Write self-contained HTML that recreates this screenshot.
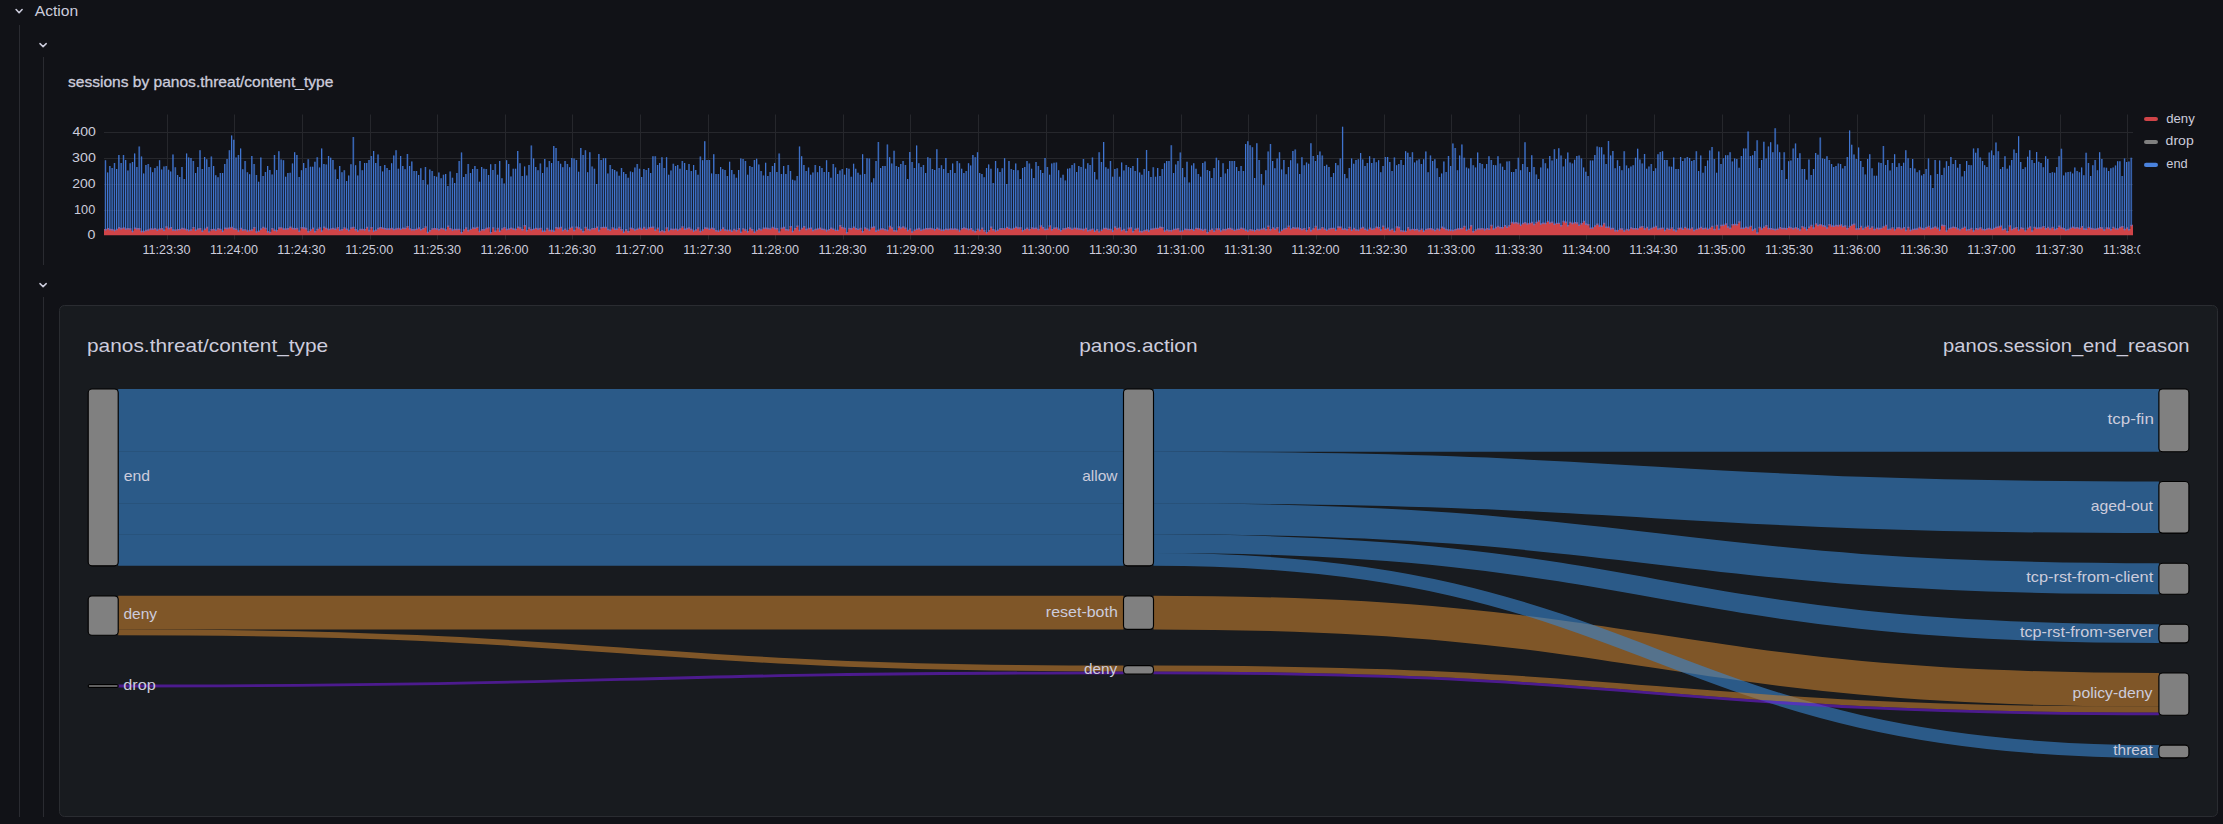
<!DOCTYPE html>
<html><head><meta charset="utf-8"><title>Action</title>
<style>
html,body{margin:0;padding:0;background:#111217;width:2223px;height:824px;overflow:hidden}
svg{display:block}
text{font-family:'Liberation Sans', Arial, sans-serif;}
</style></head><body>
<svg width="2223" height="824" viewBox="0 0 2223 824">
<rect x="0" y="0" width="2223" height="824" fill="#111217"/>

<path d="M16.1 9.5 L19.1 12.7 L22.1 9.5" fill="none" stroke="#ccccdc" stroke-width="1.6" stroke-linecap="round" stroke-linejoin="round"/>
<text x="34.78" y="16.0" font-size="15.5" fill="#ccccdc" textLength="43.47" lengthAdjust="spacingAndGlyphs">Action</text>
<rect x="19" y="25" width="1" height="792" fill="#2a2b31"/>
<path d="M40 43.6 L43.1 46.6 L46.2 43.6" fill="none" stroke="#ccccdc" stroke-width="1.5" stroke-linecap="round" stroke-linejoin="round"/>
<rect x="43" y="57" width="1" height="208" fill="#2a2b31"/>
<path d="M40 283.6 L43.1 286.6 L46.2 283.6" fill="none" stroke="#ccccdc" stroke-width="1.5" stroke-linecap="round" stroke-linejoin="round"/>
<rect x="43" y="297" width="1" height="520" fill="#2a2b31"/>
<text x="67.97" y="86.8" font-size="15" fill="#ccccdc" textLength="265.36" lengthAdjust="spacingAndGlyphs" stroke="#ccccdc" stroke-width="0.3">sessions by panos.threat/content_type</text>
<line x1="104" y1="210.5" x2="2133" y2="210.5" stroke="#26272c" stroke-width="1"/>
<line x1="104" y1="184.5" x2="2133" y2="184.5" stroke="#26272c" stroke-width="1"/>
<line x1="104" y1="158.5" x2="2133" y2="158.5" stroke="#26272c" stroke-width="1"/>
<line x1="104" y1="132.5" x2="2133" y2="132.5" stroke="#26272c" stroke-width="1"/>
<line x1="167.5" y1="114.5" x2="167.5" y2="239.5" stroke="#26272c" stroke-width="1"/>
<line x1="234.5" y1="114.5" x2="234.5" y2="239.5" stroke="#26272c" stroke-width="1"/>
<line x1="302.5" y1="114.5" x2="302.5" y2="239.5" stroke="#26272c" stroke-width="1"/>
<line x1="370.5" y1="114.5" x2="370.5" y2="239.5" stroke="#26272c" stroke-width="1"/>
<line x1="437.5" y1="114.5" x2="437.5" y2="239.5" stroke="#26272c" stroke-width="1"/>
<line x1="505.5" y1="114.5" x2="505.5" y2="239.5" stroke="#26272c" stroke-width="1"/>
<line x1="572.5" y1="114.5" x2="572.5" y2="239.5" stroke="#26272c" stroke-width="1"/>
<line x1="640.5" y1="114.5" x2="640.5" y2="239.5" stroke="#26272c" stroke-width="1"/>
<line x1="708.5" y1="114.5" x2="708.5" y2="239.5" stroke="#26272c" stroke-width="1"/>
<line x1="775.5" y1="114.5" x2="775.5" y2="239.5" stroke="#26272c" stroke-width="1"/>
<line x1="843.5" y1="114.5" x2="843.5" y2="239.5" stroke="#26272c" stroke-width="1"/>
<line x1="910.5" y1="114.5" x2="910.5" y2="239.5" stroke="#26272c" stroke-width="1"/>
<line x1="978.5" y1="114.5" x2="978.5" y2="239.5" stroke="#26272c" stroke-width="1"/>
<line x1="1046.5" y1="114.5" x2="1046.5" y2="239.5" stroke="#26272c" stroke-width="1"/>
<line x1="1113.5" y1="114.5" x2="1113.5" y2="239.5" stroke="#26272c" stroke-width="1"/>
<line x1="1181.5" y1="114.5" x2="1181.5" y2="239.5" stroke="#26272c" stroke-width="1"/>
<line x1="1248.5" y1="114.5" x2="1248.5" y2="239.5" stroke="#26272c" stroke-width="1"/>
<line x1="1316.5" y1="114.5" x2="1316.5" y2="239.5" stroke="#26272c" stroke-width="1"/>
<line x1="1384.5" y1="114.5" x2="1384.5" y2="239.5" stroke="#26272c" stroke-width="1"/>
<line x1="1451.5" y1="114.5" x2="1451.5" y2="239.5" stroke="#26272c" stroke-width="1"/>
<line x1="1519.5" y1="114.5" x2="1519.5" y2="239.5" stroke="#26272c" stroke-width="1"/>
<line x1="1586.5" y1="114.5" x2="1586.5" y2="239.5" stroke="#26272c" stroke-width="1"/>
<line x1="1654.5" y1="114.5" x2="1654.5" y2="239.5" stroke="#26272c" stroke-width="1"/>
<line x1="1722.5" y1="114.5" x2="1722.5" y2="239.5" stroke="#26272c" stroke-width="1"/>
<line x1="1789.5" y1="114.5" x2="1789.5" y2="239.5" stroke="#26272c" stroke-width="1"/>
<line x1="1857.5" y1="114.5" x2="1857.5" y2="239.5" stroke="#26272c" stroke-width="1"/>
<line x1="1924.5" y1="114.5" x2="1924.5" y2="239.5" stroke="#26272c" stroke-width="1"/>
<line x1="1992.5" y1="114.5" x2="1992.5" y2="239.5" stroke="#26272c" stroke-width="1"/>
<line x1="2060.5" y1="114.5" x2="2060.5" y2="239.5" stroke="#26272c" stroke-width="1"/>
<line x1="2127.5" y1="114.5" x2="2127.5" y2="239.5" stroke="#26272c" stroke-width="1"/>
<text x="72.51" y="135.9" font-size="12.5" fill="#ccccdc" textLength="23.39" lengthAdjust="spacingAndGlyphs">400</text>
<text x="72.13" y="161.8" font-size="12.5" fill="#ccccdc" textLength="23.73" lengthAdjust="spacingAndGlyphs">300</text>
<text x="72.23" y="187.7" font-size="12.5" fill="#ccccdc" textLength="23.28" lengthAdjust="spacingAndGlyphs">200</text>
<text x="74.04" y="213.5" font-size="12.5" fill="#ccccdc" textLength="21.23" lengthAdjust="spacingAndGlyphs">100</text>
<text x="87.49" y="239.2" font-size="12.5" fill="#ccccdc" textLength="7.90" lengthAdjust="spacingAndGlyphs">0</text>
<defs><clipPath id="pc"><rect x="104" y="94.5" width="2029" height="141.0"/></clipPath></defs>
<g clip-path="url(#pc)">
<path d="M104 235.5L104 228.88L104.49 228.88L106.75 228.88L106.75 227.89L109.00 227.89L109.00 228.84L111.25 228.84L111.25 228.95L113.51 228.95L113.51 229.74L115.76 229.74L115.76 228.82L118.01 228.82L118.01 227.12L120.27 227.12L120.27 228.00L122.52 228.00L122.52 227.21L124.77 227.21L124.77 228.23L127.03 228.23L127.03 228.04L129.28 228.04L129.28 228.31L131.53 228.31L131.53 230.69L133.79 230.69L133.79 227.45L136.04 227.45L136.04 227.90L138.29 227.90L138.29 227.91L140.55 227.91L140.55 230.73L142.80 230.73L142.80 230.79L145.05 230.79L145.05 229.69L147.31 229.69L147.31 229.15L149.56 229.15L149.56 228.15L151.81 228.15L151.81 228.61L154.07 228.61L154.07 227.88L156.32 227.88L156.32 229.37L158.57 229.37L158.57 228.15L160.83 228.15L160.83 228.04L163.08 228.04L163.08 229.40L165.34 229.40L165.34 226.34L167.59 226.34L167.59 227.83L169.84 227.83L169.84 227.01L172.10 227.01L172.10 229.35L174.35 229.35L174.35 229.50L176.60 229.50L176.60 228.99L178.86 228.99L178.86 228.68L181.11 228.68L181.11 227.73L183.36 227.73L183.36 228.23L185.62 228.23L185.62 229.12L187.87 229.12L187.87 229.78L190.12 229.78L190.12 229.22L192.38 229.22L192.38 226.98L194.63 226.98L194.63 229.59L196.88 229.59L196.88 228.23L199.14 228.23L199.14 228.00L201.39 228.00L201.39 230.47L203.64 230.47L203.64 228.49L205.90 228.49L205.90 226.87L208.15 226.87L208.15 231.14L210.40 231.14L210.40 228.96L212.66 228.96L212.66 228.68L214.91 228.68L214.91 229.60L217.16 229.60L217.16 227.91L219.42 227.91L219.42 228.63L221.67 228.63L221.67 230.43L223.92 230.43L223.92 227.48L226.18 227.48L226.18 227.69L228.43 227.69L228.43 227.33L230.68 227.33L230.68 226.69L232.94 226.69L232.94 228.08L235.19 228.08L235.19 228.39L237.44 228.39L237.44 230.22L239.70 230.22L239.70 227.76L241.95 227.76L241.95 229.34L244.20 229.34L244.20 229.13L246.46 229.13L246.46 230.18L248.71 230.18L248.71 229.79L250.96 229.79L250.96 229.23L253.22 229.23L253.22 226.89L255.47 226.89L255.47 231.16L257.72 231.16L257.72 230.42L259.98 230.42L259.98 228.24L262.23 228.24L262.23 226.69L264.48 226.69L264.48 227.80L266.74 227.80L266.74 230.99L268.99 230.99L268.99 231.79L271.24 231.79L271.24 228.09L273.50 228.09L273.50 229.50L275.75 229.50L275.75 229.99L278.01 229.99L278.01 227.29L280.26 227.29L280.26 227.13L282.51 227.13L282.51 228.35L284.77 228.35L284.77 228.23L287.02 228.23L287.02 227.99L289.27 227.99L289.27 226.50L291.53 226.50L291.53 227.75L293.78 227.75L293.78 227.88L296.03 227.88L296.03 227.84L298.29 227.84L298.29 230.57L300.54 230.57L300.54 226.90L302.79 226.90L302.79 227.32L305.05 227.32L305.05 227.87L307.30 227.87L307.30 231.09L309.55 231.09L309.55 229.36L311.81 229.36L311.81 227.46L314.06 227.46L314.06 230.88L316.31 230.88L316.31 228.78L318.57 228.78L318.57 227.23L320.82 227.23L320.82 230.24L323.07 230.24L323.07 226.47L325.33 226.47L325.33 227.84L327.58 227.84L327.58 228.74L329.83 228.74L329.83 228.13L332.09 228.13L332.09 227.71L334.34 227.71L334.34 228.39L336.59 228.39L336.59 227.07L338.85 227.07L338.85 229.40L341.10 229.40L341.10 229.08L343.35 229.08L343.35 227.21L345.61 227.21L345.61 228.51L347.86 228.51L347.86 229.68L350.11 229.68L350.11 227.33L352.37 227.33L352.37 226.66L354.62 226.66L354.62 229.12L356.87 229.12L356.87 230.32L359.13 230.32L359.13 228.72L361.38 228.72L361.38 228.74L363.63 228.74L363.63 228.93L365.89 228.93L365.89 226.74L368.14 226.74L368.14 229.87L370.39 229.87L370.39 226.92L372.65 226.92L372.65 230.18L374.90 230.18L374.90 229.56L377.15 229.56L377.15 227.73L379.41 227.73L379.41 227.09L381.66 227.09L381.66 227.44L383.91 227.44L383.91 228.10L386.17 228.10L386.17 228.36L388.42 228.36L388.42 228.35L390.68 228.35L390.68 227.81L392.93 227.81L392.93 228.77L395.18 228.77L395.18 228.19L397.44 228.19L397.44 227.81L399.69 227.81L399.69 228.55L401.94 228.55L401.94 227.56L404.20 227.56L404.20 227.82L406.45 227.82L406.45 225.96L408.70 225.96L408.70 228.13L410.96 228.13L410.96 229.10L413.21 229.10L413.21 229.03L415.46 229.03L415.46 228.56L417.72 228.56L417.72 227.36L419.97 227.36L419.97 228.98L422.22 228.98L422.22 228.05L424.48 228.05L424.48 226.18L426.73 226.18L426.73 231.85L428.98 231.85L428.98 229.99L431.24 229.99L431.24 228.23L433.49 228.23L433.49 228.03L435.74 228.03L435.74 228.24L438.00 228.24L438.00 229.10L440.25 229.10L440.25 227.70L442.50 227.70L442.50 228.18L444.76 228.18L444.76 229.22L447.01 229.22L447.01 225.42L449.26 225.42L449.26 228.09L451.52 228.09L451.52 229.26L453.77 229.26L453.77 228.68L456.02 228.68L456.02 228.84L458.28 228.84L458.28 228.63L460.53 228.63L460.53 232.06L462.78 232.06L462.78 229.17L465.04 229.17L465.04 227.25L467.29 227.25L467.29 230.05L469.54 230.05L469.54 228.63L471.80 228.63L471.80 227.32L474.05 227.32L474.05 227.45L476.30 227.45L476.30 226.63L478.56 226.63L478.56 230.74L480.81 230.74L480.81 229.00L483.06 229.00L483.06 228.99L485.32 228.99L485.32 227.75L487.57 227.75L487.57 227.14L489.82 227.14L489.82 232.00L492.08 232.00L492.08 227.15L494.33 227.15L494.33 230.41L496.58 230.41L496.58 227.67L498.84 227.67L498.84 230.47L501.09 230.47L501.09 228.32L503.35 228.32L503.35 227.01L505.60 227.01L505.60 228.74L507.85 228.74L507.85 228.30L510.11 228.30L510.11 227.52L512.36 227.52L512.36 228.37L514.61 228.37L514.61 228.66L516.87 228.66L516.87 226.57L519.12 226.57L519.12 227.20L521.37 227.20L521.37 228.93L523.63 228.93L523.63 225.01L525.88 225.01L525.88 230.02L528.13 230.02L528.13 227.37L530.39 227.37L530.39 228.89L532.64 228.89L532.64 228.38L534.89 228.38L534.89 227.64L537.15 227.64L537.15 228.26L539.40 228.26L539.40 227.73L541.65 227.73L541.65 230.51L543.91 230.51L543.91 230.49L546.16 230.49L546.16 227.76L548.41 227.76L548.41 229.79L550.67 229.79L550.67 229.87L552.92 229.87L552.92 230.44L555.17 230.44L555.17 226.92L557.43 226.92L557.43 227.59L559.68 227.59L559.68 226.65L561.93 226.65L561.93 229.75L564.19 229.75L564.19 228.55L566.44 228.55L566.44 230.02L568.69 230.02L568.69 227.56L570.95 227.56L570.95 226.50L573.20 226.50L573.20 229.69L575.45 229.69L575.45 226.54L577.71 226.54L577.71 227.28L579.96 227.28L579.96 228.78L582.21 228.78L582.21 231.09L584.47 231.09L584.47 226.74L586.72 226.74L586.72 228.67L588.97 228.67L588.97 229.32L591.23 229.32L591.23 228.03L593.48 228.03L593.48 228.02L595.73 228.02L595.73 226.62L597.99 226.62L597.99 229.86L600.24 229.86L600.24 227.08L602.49 227.08L602.49 226.63L604.75 226.63L604.75 226.68L607.00 226.68L607.00 228.78L609.25 228.78L609.25 229.51L611.51 229.51L611.51 227.24L613.76 227.24L613.76 228.40L616.02 228.40L616.02 228.39L618.27 228.39L618.27 226.71L620.52 226.71L620.52 228.89L622.78 228.89L622.78 231.50L625.03 231.50L625.03 229.05L627.28 229.05L627.28 230.93L629.54 230.93L629.54 227.49L631.79 227.49L631.79 228.14L634.04 228.14L634.04 229.33L636.30 229.33L636.30 228.56L638.55 228.56L638.55 227.48L640.80 227.48L640.80 228.45L643.06 228.45L643.06 226.84L645.31 226.84L645.31 228.63L647.56 228.63L647.56 227.21L649.82 227.21L649.82 226.63L652.07 226.63L652.07 226.47L654.32 226.47L654.32 229.41L656.58 229.41L656.58 227.41L658.83 227.41L658.83 230.96L661.08 230.96L661.08 229.94L663.34 229.94L663.34 231.07L665.59 231.07L665.59 227.17L667.84 227.17L667.84 230.13L670.10 230.13L670.10 228.56L672.35 228.56L672.35 228.79L674.60 228.79L674.60 228.58L676.86 228.58L676.86 229.31L679.11 229.31L679.11 228.25L681.36 228.25L681.36 226.24L683.62 226.24L683.62 228.49L685.87 228.49L685.87 227.86L688.12 227.86L688.12 227.26L690.38 227.26L690.38 228.80L692.63 228.80L692.63 230.17L694.88 230.17L694.88 229.26L697.14 229.26L697.14 227.17L699.39 227.17L699.39 230.67L701.64 230.67L701.64 229.32L703.90 229.32L703.90 227.25L706.15 227.25L706.15 227.53L708.40 227.53L708.40 228.54L710.66 228.54L710.66 227.51L712.91 227.51L712.91 228.33L715.16 228.33L715.16 230.07L717.42 230.07L717.42 230.56L719.67 230.56L719.67 229.37L721.92 229.37L721.92 227.36L724.18 227.36L724.18 229.28L726.43 229.28L726.43 229.71L728.69 229.71L728.69 229.54L730.94 229.54L730.94 230.52L733.19 230.52L733.19 228.70L735.45 228.70L735.45 230.07L737.70 230.07L737.70 228.08L739.95 228.08L739.95 231.59L742.21 231.59L742.21 228.13L744.46 228.13L744.46 229.37L746.71 229.37L746.71 231.05L748.97 231.05L748.97 227.61L751.22 227.61L751.22 228.90L753.47 228.90L753.47 231.42L755.73 231.42L755.73 229.67L757.98 229.67L757.98 228.17L760.23 228.17L760.23 229.14L762.49 229.14L762.49 227.54L764.74 227.54L764.74 227.59L766.99 227.59L766.99 227.69L769.25 227.69L769.25 228.13L771.50 228.13L771.50 226.83L773.75 226.83L773.75 227.70L776.01 227.70L776.01 227.97L778.26 227.97L778.26 231.23L780.51 231.23L780.51 227.39L782.77 227.39L782.77 226.86L785.02 226.86L785.02 228.93L787.27 228.93L787.27 229.15L789.53 229.15L789.53 226.05L791.78 226.05L791.78 230.81L794.03 230.81L794.03 227.94L796.29 227.94L796.29 225.43L798.54 225.43L798.54 229.74L800.79 229.74L800.79 227.66L803.05 227.66L803.05 226.12L805.30 226.12L805.30 228.70L807.55 228.70L807.55 227.82L809.81 227.82L809.81 227.39L812.06 227.39L812.06 229.71L814.31 229.71L814.31 228.66L816.57 228.66L816.57 228.17L818.82 228.17L818.82 227.48L821.07 227.48L821.07 228.59L823.33 228.59L823.33 228.80L825.58 228.80L825.58 229.86L827.83 229.86L827.83 229.01L830.09 229.01L830.09 227.40L832.34 227.40L832.34 228.42L834.59 228.42L834.59 229.65L836.85 229.65L836.85 229.63L839.10 229.63L839.10 225.11L841.36 225.11L841.36 227.08L843.61 227.08L843.61 227.73L845.86 227.73L845.86 231.89L848.12 231.89L848.12 227.75L850.37 227.75L850.37 227.93L852.62 227.93L852.62 226.38L854.88 226.38L854.88 228.00L857.13 228.00L857.13 228.63L859.38 228.63L859.38 227.87L861.64 227.87L861.64 231.05L863.89 231.05L863.89 227.22L866.14 227.22L866.14 228.13L868.40 228.13L868.40 229.45L870.65 229.45L870.65 226.84L872.90 226.84L872.90 226.22L875.16 226.22L875.16 230.35L877.41 230.35L877.41 229.41L879.66 229.41L879.66 228.17L881.92 228.17L881.92 228.31L884.17 228.31L884.17 229.06L886.42 229.06L886.42 229.80L888.68 229.80L888.68 225.82L890.93 225.82L890.93 227.21L893.18 227.21L893.18 230.09L895.44 230.09L895.44 230.28L897.69 230.28L897.69 226.35L899.94 226.35L899.94 227.27L902.20 227.27L902.20 226.20L904.45 226.20L904.45 227.50L906.70 227.50L906.70 229.67L908.96 229.67L908.96 228.21L911.21 228.21L911.21 231.33L913.46 231.33L913.46 229.51L915.72 229.51L915.72 228.62L917.97 228.62L917.97 227.87L920.22 227.87L920.22 229.48L922.48 229.48L922.48 228.71L924.73 228.71L924.73 227.96L926.98 227.96L926.98 228.06L929.24 228.06L929.24 227.73L931.49 227.73L931.49 228.28L933.74 228.28L933.74 228.96L936.00 228.96L936.00 227.53L938.25 227.53L938.25 228.48L940.50 228.48L940.50 229.61L942.76 229.61L942.76 229.35L945.01 229.35L945.01 228.55L947.26 228.55L947.26 228.69L949.52 228.69L949.52 228.35L951.77 228.35L951.77 228.55L954.03 228.55L954.03 228.32L956.28 228.32L956.28 228.72L958.53 228.72L958.53 230.17L960.79 230.17L960.79 228.01L963.04 228.01L963.04 227.19L965.29 227.19L965.29 227.99L967.55 227.99L967.55 228.79L969.80 228.79L969.80 227.97L972.05 227.97L972.05 229.79L974.31 229.79L974.31 230.99L976.56 230.99L976.56 228.47L978.81 228.47L978.81 229.75L981.07 229.75L981.07 227.59L983.32 227.59L983.32 229.94L985.57 229.94L985.57 231.93L987.83 231.93L987.83 229.89L990.08 229.89L990.08 226.52L992.33 226.52L992.33 229.04L994.59 229.04L994.59 230.31L996.84 230.31L996.84 229.53L999.09 229.53L999.09 227.88L1001.35 227.88L1001.35 227.91L1003.60 227.91L1003.60 228.32L1005.85 228.32L1005.85 226.64L1008.11 226.64L1008.11 227.64L1010.36 227.64L1010.36 228.57L1012.61 228.57L1012.61 227.78L1014.87 227.78L1014.87 226.42L1017.12 226.42L1017.12 227.30L1019.37 227.30L1019.37 227.23L1021.63 227.23L1021.63 229.94L1023.88 229.94L1023.88 228.74L1026.13 228.74L1026.13 227.61L1028.39 227.61L1028.39 228.93L1030.64 228.93L1030.64 227.17L1032.89 227.17L1032.89 227.78L1035.15 227.78L1035.15 227.38L1037.40 227.38L1037.40 228.82L1039.65 228.82L1039.65 225.27L1041.91 225.27L1041.91 226.95L1044.16 226.95L1044.16 228.82L1046.41 228.82L1046.41 228.43L1048.67 228.43L1048.67 225.21L1050.92 225.21L1050.92 228.99L1053.17 228.99L1053.17 227.42L1055.43 227.42L1055.43 227.29L1057.68 227.29L1057.68 228.54L1059.93 228.54L1059.93 230.05L1062.19 230.05L1062.19 228.31L1064.44 228.31L1064.44 228.08L1066.70 228.08L1066.70 227.09L1068.95 227.09L1068.95 227.54L1071.20 227.54L1071.20 228.52L1073.46 228.52L1073.46 227.45L1075.71 227.45L1075.71 227.85L1077.96 227.85L1077.96 228.28L1080.22 228.28L1080.22 228.48L1082.47 228.48L1082.47 228.86L1084.72 228.86L1084.72 227.66L1086.98 227.66L1086.98 229.90L1089.23 229.90L1089.23 229.36L1091.48 229.36L1091.48 228.54L1093.74 228.54L1093.74 230.43L1095.99 230.43L1095.99 229.11L1098.24 229.11L1098.24 231.13L1100.50 231.13L1100.50 229.43L1102.75 229.43L1102.75 227.82L1105.00 227.82L1105.00 227.82L1107.26 227.82L1107.26 228.62L1109.51 228.62L1109.51 228.85L1111.76 228.85L1111.76 230.37L1114.02 230.37L1114.02 226.19L1116.27 226.19L1116.27 227.88L1118.52 227.88L1118.52 227.14L1120.78 227.14L1120.78 229.68L1123.03 229.68L1123.03 228.79L1125.28 228.79L1125.28 230.89L1127.54 230.89L1127.54 227.54L1129.79 227.54L1129.79 227.34L1132.04 227.34L1132.04 230.99L1134.30 230.99L1134.30 228.61L1136.55 228.61L1136.55 227.74L1138.80 227.74L1138.80 230.82L1141.06 230.82L1141.06 230.90L1143.31 230.90L1143.31 229.92L1145.56 229.92L1145.56 229.36L1147.82 229.36L1147.82 230.35L1150.07 230.35L1150.07 228.51L1152.32 228.51L1152.32 228.23L1154.58 228.23L1154.58 227.73L1156.83 227.73L1156.83 227.64L1159.08 227.64L1159.08 226.61L1161.34 226.61L1161.34 227.05L1163.59 227.05L1163.59 230.24L1165.84 230.24L1165.84 229.20L1168.10 229.20L1168.10 229.91L1170.35 229.91L1170.35 229.93L1172.60 229.93L1172.60 228.65L1174.86 228.65L1174.86 228.54L1177.11 228.54L1177.11 227.92L1179.37 227.92L1179.37 230.59L1181.62 230.59L1181.62 230.14L1183.87 230.14L1183.87 228.58L1186.13 228.58L1186.13 228.80L1188.38 228.80L1188.38 228.95L1190.63 228.95L1190.63 228.63L1192.89 228.63L1192.89 229.53L1195.14 229.53L1195.14 227.64L1197.39 227.64L1197.39 228.09L1199.65 228.09L1199.65 228.66L1201.90 228.66L1201.90 229.41L1204.15 229.41L1204.15 228.77L1206.41 228.77L1206.41 232.05L1208.66 232.05L1208.66 229.81L1210.91 229.81L1210.91 228.50L1213.17 228.50L1213.17 230.48L1215.42 230.48L1215.42 228.29L1217.67 228.29L1217.67 228.36L1219.93 228.36L1219.93 230.32L1222.18 230.32L1222.18 228.87L1224.43 228.87L1224.43 228.95L1226.69 228.95L1226.69 227.96L1228.94 227.96L1228.94 227.76L1231.19 227.76L1231.19 228.59L1233.45 228.59L1233.45 229.64L1235.70 229.64L1235.70 228.73L1237.95 228.73L1237.95 228.63L1240.21 228.63L1240.21 227.60L1242.46 227.60L1242.46 228.17L1244.71 228.17L1244.71 229.48L1246.97 229.48L1246.97 230.29L1249.22 230.29L1249.22 229.03L1251.47 229.03L1251.47 229.50L1253.73 229.50L1253.73 229.98L1255.98 229.98L1255.98 228.70L1258.23 228.70L1258.23 229.18L1260.49 229.18L1260.49 228.41L1262.74 228.41L1262.74 227.87L1264.99 227.87L1264.99 229.08L1267.25 229.08L1267.25 225.55L1269.50 225.55L1269.50 228.96L1271.75 228.96L1271.75 227.13L1274.01 227.13L1274.01 228.39L1276.26 228.39L1276.26 227.11L1278.51 227.11L1278.51 231.61L1280.77 231.61L1280.77 229.52L1283.02 229.52L1283.02 228.23L1285.27 228.23L1285.27 227.77L1287.53 227.77L1287.53 225.54L1289.78 225.54L1289.78 228.13L1292.04 228.13L1292.04 226.90L1294.29 226.90L1294.29 227.56L1296.54 227.56L1296.54 227.33L1298.80 227.33L1298.80 227.89L1301.05 227.89L1301.05 228.75L1303.30 228.75L1303.30 227.89L1305.56 227.89L1305.56 229.94L1307.81 229.94L1307.81 227.03L1310.06 227.03L1310.06 229.86L1312.32 229.86L1312.32 228.23L1314.57 228.23L1314.57 225.82L1316.82 225.82L1316.82 228.84L1319.08 228.84L1319.08 228.52L1321.33 228.52L1321.33 227.05L1323.58 227.05L1323.58 228.51L1325.84 228.51L1325.84 229.59L1328.09 229.59L1328.09 228.22L1330.34 228.22L1330.34 227.80L1332.60 227.80L1332.60 227.63L1334.85 227.63L1334.85 229.54L1337.10 229.54L1337.10 226.29L1339.36 226.29L1339.36 226.40L1341.61 226.40L1341.61 228.52L1343.86 228.52L1343.86 228.20L1346.12 228.20L1346.12 229.10L1348.37 229.10L1348.37 226.73L1350.62 226.73L1350.62 229.46L1352.88 229.46L1352.88 227.68L1355.13 227.68L1355.13 229.17L1357.38 229.17L1357.38 229.44L1359.64 229.44L1359.64 227.62L1361.89 227.62L1361.89 226.83L1364.14 226.83L1364.14 228.56L1366.40 228.56L1366.40 229.42L1368.65 229.42L1368.65 227.50L1370.90 227.50L1370.90 228.61L1373.16 228.61L1373.16 228.15L1375.41 228.15L1375.41 226.59L1377.66 226.59L1377.66 227.09L1379.92 227.09L1379.92 229.22L1382.17 229.22L1382.17 225.61L1384.42 225.61L1384.42 228.54L1386.68 228.54L1386.68 227.54L1388.93 227.54L1388.93 229.38L1391.18 229.38L1391.18 228.61L1393.44 228.61L1393.44 230.80L1395.69 230.80L1395.69 226.25L1397.94 226.25L1397.94 226.79L1400.20 226.79L1400.20 230.11L1402.45 230.11L1402.45 230.49L1404.71 230.49L1404.71 230.63L1406.96 230.63L1406.96 227.03L1409.21 227.03L1409.21 229.14L1411.47 229.14L1411.47 228.63L1413.72 228.63L1413.72 228.95L1415.97 228.95L1415.97 228.70L1418.23 228.70L1418.23 229.95L1420.48 229.95L1420.48 228.52L1422.73 228.52L1422.73 230.40L1424.99 230.40L1424.99 228.64L1427.24 228.64L1427.24 228.15L1429.49 228.15L1429.49 227.95L1431.75 227.95L1431.75 228.85L1434.00 228.85L1434.00 229.71L1436.25 229.71L1436.25 228.34L1438.51 228.34L1438.51 229.17L1440.76 229.17L1440.76 226.53L1443.01 226.53L1443.01 227.56L1445.27 227.56L1445.27 228.70L1447.52 228.70L1447.52 229.15L1449.77 229.15L1449.77 229.45L1452.03 229.45L1452.03 229.75L1454.28 229.75L1454.28 229.00L1456.53 229.00L1456.53 228.17L1458.79 228.17L1458.79 227.88L1461.04 227.88L1461.04 227.82L1463.29 227.82L1463.29 225.85L1465.55 225.85L1465.55 229.46L1467.80 229.46L1467.80 228.53L1470.05 228.53L1470.05 224.95L1472.31 224.95L1472.31 230.95L1474.56 230.95L1474.56 229.22L1476.81 229.22L1476.81 228.33L1479.07 228.33L1479.07 228.35L1481.32 228.35L1481.32 228.02L1483.57 228.02L1483.57 228.85L1485.83 228.85L1485.83 228.08L1488.08 228.08L1488.08 228.48L1490.33 228.48L1490.33 224.72L1492.59 224.72L1492.59 228.15L1494.84 228.15L1494.84 226.85L1497.09 226.85L1497.09 225.72L1499.35 225.72L1499.35 227.04L1501.60 227.04L1501.60 227.06L1503.85 227.06L1503.85 224.91L1506.11 224.91L1506.11 226.55L1508.36 226.55L1508.36 224.90L1510.61 224.90L1510.61 221.66L1512.87 221.66L1512.87 222.23L1515.12 222.23L1515.12 221.97L1517.38 221.97L1517.38 222.76L1519.63 222.76L1519.63 224.44L1521.88 224.44L1521.88 222.66L1524.14 222.66L1524.14 222.04L1526.39 222.04L1526.39 223.31L1528.64 223.31L1528.64 222.75L1530.90 222.75L1530.90 221.66L1533.15 221.66L1533.15 223.76L1535.40 223.76L1535.40 221.80L1537.66 221.80L1537.66 220.23L1539.91 220.23L1539.91 223.34L1542.16 223.34L1542.16 222.44L1544.42 222.44L1544.42 222.82L1546.67 222.82L1546.67 220.64L1548.92 220.64L1548.92 222.22L1551.18 222.22L1551.18 221.47L1553.43 221.47L1553.43 223.51L1555.68 223.51L1555.68 222.65L1557.94 222.65L1557.94 222.64L1560.19 222.64L1560.19 224.91L1562.44 224.91L1562.44 220.77L1564.70 220.77L1564.70 221.47L1566.95 221.47L1566.95 224.88L1569.20 224.88L1569.20 221.67L1571.46 221.67L1571.46 222.79L1573.71 222.79L1573.71 222.05L1575.96 222.05L1575.96 222.15L1578.22 222.15L1578.22 224.55L1580.47 224.55L1580.47 222.90L1582.72 222.90L1582.72 220.70L1584.98 220.70L1584.98 223.37L1587.23 223.37L1587.23 223.94L1589.48 223.94L1589.48 227.47L1591.74 227.47L1591.74 227.29L1593.99 227.29L1593.99 225.28L1596.24 225.28L1596.24 223.54L1598.50 223.54L1598.50 225.16L1600.75 225.16L1600.75 225.40L1603.00 225.40L1603.00 222.84L1605.26 222.84L1605.26 226.38L1607.51 226.38L1607.51 226.58L1609.76 226.58L1609.76 227.87L1612.02 227.87L1612.02 227.84L1614.27 227.84L1614.27 229.85L1616.52 229.85L1616.52 230.05L1618.78 230.05L1618.78 228.17L1621.03 228.17L1621.03 228.23L1623.28 228.23L1623.28 230.23L1625.54 230.23L1625.54 228.81L1627.79 228.81L1627.79 229.25L1630.05 229.25L1630.05 227.18L1632.30 227.18L1632.30 227.93L1634.55 227.93L1634.55 227.89L1636.81 227.89L1636.81 228.23L1639.06 228.23L1639.06 226.42L1641.31 226.42L1641.31 225.98L1643.57 225.98L1643.57 228.25L1645.82 228.25L1645.82 226.69L1648.07 226.69L1648.07 228.75L1650.33 228.75L1650.33 227.68L1652.58 227.68L1652.58 226.81L1654.83 226.81L1654.83 225.83L1657.09 225.83L1657.09 228.27L1659.34 228.27L1659.34 227.87L1661.59 227.87L1661.59 227.52L1663.85 227.52L1663.85 229.70L1666.10 229.70L1666.10 227.75L1668.35 227.75L1668.35 228.65L1670.61 228.65L1670.61 227.30L1672.86 227.30L1672.86 229.23L1675.11 229.23L1675.11 230.32L1677.37 230.32L1677.37 227.73L1679.62 227.73L1679.62 227.44L1681.87 227.44L1681.87 228.48L1684.13 228.48L1684.13 226.63L1686.38 226.63L1686.38 228.13L1688.63 228.13L1688.63 228.55L1690.89 228.55L1690.89 227.16L1693.14 227.16L1693.14 229.79L1695.39 229.79L1695.39 228.65L1697.65 228.65L1697.65 227.80L1699.90 227.80L1699.90 226.68L1702.15 226.68L1702.15 227.98L1704.41 227.98L1704.41 227.38L1706.66 227.38L1706.66 228.62L1708.91 228.62L1708.91 227.39L1711.17 227.39L1711.17 225.63L1713.42 225.63L1713.42 228.66L1715.67 228.66L1715.67 224.73L1717.93 224.73L1717.93 228.60L1720.18 228.60L1720.18 224.66L1722.43 224.66L1722.43 224.46L1724.69 224.46L1724.69 223.37L1726.94 223.37L1726.94 226.28L1729.19 226.28L1729.19 227.39L1731.45 227.39L1731.45 223.90L1733.70 223.90L1733.70 223.66L1735.95 223.66L1735.95 223.88L1738.21 223.88L1738.21 221.30L1740.46 221.30L1740.46 227.51L1742.72 227.51L1742.72 227.45L1744.97 227.45L1744.97 226.58L1747.22 226.58L1747.22 227.30L1749.48 227.30L1749.48 225.63L1751.73 225.63L1751.73 229.37L1753.98 229.37L1753.98 228.26L1756.24 228.26L1756.24 232.21L1758.49 232.21L1758.49 226.73L1760.74 226.73L1760.74 228.25L1763.00 228.25L1763.00 226.59L1765.25 226.59L1765.25 225.00L1767.50 225.00L1767.50 227.78L1769.76 227.78L1769.76 228.10L1772.01 228.10L1772.01 228.42L1774.26 228.42L1774.26 228.85L1776.52 228.85L1776.52 228.59L1778.77 228.59L1778.77 226.95L1781.02 226.95L1781.02 227.73L1783.28 227.73L1783.28 227.69L1785.53 227.69L1785.53 228.00L1787.78 228.00L1787.78 226.60L1790.04 226.60L1790.04 227.14L1792.29 227.14L1792.29 227.96L1794.54 227.96L1794.54 226.92L1796.80 226.92L1796.80 227.97L1799.05 227.97L1799.05 229.26L1801.30 229.26L1801.30 225.90L1803.56 225.90L1803.56 227.18L1805.81 227.18L1805.81 229.01L1808.06 229.01L1808.06 226.39L1810.32 226.39L1810.32 224.76L1812.57 224.76L1812.57 227.21L1814.82 227.21L1814.82 223.13L1817.08 223.13L1817.08 224.77L1819.33 224.77L1819.33 224.05L1821.58 224.05L1821.58 224.95L1823.84 224.95L1823.84 225.39L1826.09 225.39L1826.09 227.19L1828.34 227.19L1828.34 223.95L1830.60 223.95L1830.60 225.16L1832.85 225.16L1832.85 225.57L1835.10 225.57L1835.10 224.75L1837.36 224.75L1837.36 225.10L1839.61 225.10L1839.61 224.33L1841.86 224.33L1841.86 225.68L1844.12 225.68L1844.12 225.25L1846.37 225.25L1846.37 227.95L1848.62 227.95L1848.62 225.74L1850.88 225.74L1850.88 224.33L1853.13 224.33L1853.13 223.48L1855.39 223.48L1855.39 228.24L1857.64 228.24L1857.64 227.93L1859.89 227.93L1859.89 225.74L1862.15 225.74L1862.15 228.19L1864.40 228.19L1864.40 226.83L1866.65 226.83L1866.65 225.61L1868.91 225.61L1868.91 227.72L1871.16 227.72L1871.16 226.20L1873.41 226.20L1873.41 228.69L1875.67 228.69L1875.67 227.51L1877.92 227.51L1877.92 227.87L1880.17 227.87L1880.17 227.63L1882.43 227.63L1882.43 226.32L1884.68 226.32L1884.68 224.70L1886.93 224.70L1886.93 228.63L1889.19 228.63L1889.19 228.52L1891.44 228.52L1891.44 227.13L1893.69 227.13L1893.69 229.13L1895.95 229.13L1895.95 227.14L1898.20 227.14L1898.20 227.04L1900.45 227.04L1900.45 228.13L1902.71 228.13L1902.71 227.09L1904.96 227.09L1904.96 229.77L1907.21 229.77L1907.21 226.80L1909.47 226.80L1909.47 229.76L1911.72 229.76L1911.72 228.67L1913.97 228.67L1913.97 228.49L1916.23 228.49L1916.23 228.29L1918.48 228.29L1918.48 226.67L1920.73 226.67L1920.73 227.67L1922.99 227.67L1922.99 228.29L1925.24 228.29L1925.24 227.08L1927.49 227.08L1927.49 225.74L1929.75 225.74L1929.75 227.77L1932.00 227.77L1932.00 227.30L1934.25 227.30L1934.25 226.18L1936.51 226.18L1936.51 227.43L1938.76 227.43L1938.76 229.43L1941.01 229.43L1941.01 224.57L1943.27 224.57L1943.27 224.93L1945.52 224.93L1945.52 230.33L1947.77 230.33L1947.77 227.83L1950.03 227.83L1950.03 227.24L1952.28 227.24L1952.28 226.53L1954.53 226.53L1954.53 226.91L1956.79 226.91L1956.79 228.13L1959.04 228.13L1959.04 229.13L1961.29 229.13L1961.29 227.64L1963.55 227.64L1963.55 226.44L1965.80 226.44L1965.80 229.18L1968.06 229.18L1968.06 229.10L1970.31 229.10L1970.31 227.81L1972.56 227.81L1972.56 230.27L1974.82 230.27L1974.82 228.11L1977.07 228.11L1977.07 228.34L1979.32 228.34L1979.32 227.19L1981.58 227.19L1981.58 228.68L1983.83 228.68L1983.83 228.91L1986.08 228.91L1986.08 228.28L1988.34 228.28L1988.34 227.84L1990.59 227.84L1990.59 228.63L1992.84 228.63L1992.84 227.76L1995.10 227.76L1995.10 226.81L1997.35 226.81L1997.35 226.25L1999.60 226.25L1999.60 225.58L2001.86 225.58L2001.86 228.78L2004.11 228.78L2004.11 228.32L2006.36 228.32L2006.36 230.97L2008.62 230.97L2008.62 225.33L2010.87 225.33L2010.87 228.71L2013.12 228.71L2013.12 227.82L2015.38 227.82L2015.38 227.10L2017.63 227.10L2017.63 229.52L2019.88 229.52L2019.88 227.18L2022.14 227.18L2022.14 227.81L2024.39 227.81L2024.39 230.13L2026.64 230.13L2026.64 227.40L2028.90 227.40L2028.90 226.24L2031.15 226.24L2031.15 230.18L2033.40 230.18L2033.40 226.74L2035.66 226.74L2035.66 227.51L2037.91 227.51L2037.91 227.16L2040.16 227.16L2040.16 227.21L2042.42 227.21L2042.42 226.10L2044.67 226.10L2044.67 228.06L2046.92 228.06L2046.92 226.65L2049.18 226.65L2049.18 228.30L2051.43 228.30L2051.43 226.84L2053.68 226.84L2053.68 228.82L2055.94 228.82L2055.94 227.91L2058.19 227.91L2058.19 225.55L2060.44 225.55L2060.44 227.20L2062.70 227.20L2062.70 227.98L2064.95 227.98L2064.95 229.25L2067.20 229.25L2067.20 228.79L2069.46 228.79L2069.46 227.53L2071.71 227.53L2071.71 226.57L2073.96 226.57L2073.96 227.23L2076.22 227.23L2076.22 227.10L2078.47 227.10L2078.47 227.83L2080.73 227.83L2080.73 226.03L2082.98 226.03L2082.98 228.28L2085.23 228.28L2085.23 228.48L2087.49 228.48L2087.49 226.63L2089.74 226.63L2089.74 227.69L2091.99 227.69L2091.99 228.13L2094.25 228.13L2094.25 228.52L2096.50 228.52L2096.50 228.11L2098.75 228.11L2098.75 226.97L2101.01 226.97L2101.01 227.32L2103.26 227.32L2103.26 229.33L2105.51 229.33L2105.51 227.23L2107.77 227.23L2107.77 227.54L2110.02 227.54L2110.02 229.06L2112.27 229.06L2112.27 226.78L2114.53 226.78L2114.53 228.14L2116.78 228.14L2116.78 228.21L2119.03 228.21L2119.03 226.75L2121.29 226.75L2121.29 226.07L2123.54 226.07L2123.54 228.66L2125.79 228.66L2125.79 227.21L2128.05 227.21L2128.05 228.90L2130.30 228.90L2130.30 224.80L2132.55 224.80L2133 224.80L2133 235.5Z" fill="#d04448"/>
<path d="M104.84 160.3h1.55V230.4h-1.55ZM107.10 172.5h1.55V229.4h-1.55ZM109.35 166.1h1.55V230.3h-1.55ZM111.61 167.9h1.55V230.5h-1.55ZM113.86 163.0h1.55V231.2h-1.55ZM116.11 169.0h1.55V230.3h-1.55ZM118.37 154.9h1.55V228.6h-1.55ZM120.62 163.0h1.55V229.5h-1.55ZM122.87 155.1h1.55V228.7h-1.55ZM125.13 160.1h1.55V229.7h-1.55ZM127.38 170.4h1.55V229.5h-1.55ZM129.63 163.2h1.55V229.8h-1.55ZM131.89 162.1h1.55V232.2h-1.55ZM134.14 153.4h1.55V228.9h-1.55ZM136.39 166.9h1.55V229.4h-1.55ZM138.65 146.4h1.55V229.4h-1.55ZM140.90 156.5h1.55V232.2h-1.55ZM143.15 173.4h1.55V232.3h-1.55ZM145.41 165.1h1.55V231.2h-1.55ZM147.66 163.9h1.55V230.7h-1.55ZM149.91 167.2h1.55V229.7h-1.55ZM152.17 172.2h1.55V230.1h-1.55ZM154.42 167.9h1.55V229.4h-1.55ZM156.67 166.3h1.55V230.9h-1.55ZM158.93 160.3h1.55V229.7h-1.55ZM161.18 169.4h1.55V229.5h-1.55ZM163.43 166.4h1.55V230.9h-1.55ZM165.69 165.9h1.55V227.8h-1.55ZM167.94 169.8h1.55V229.3h-1.55ZM170.19 171.4h1.55V228.5h-1.55ZM172.45 154.5h1.55V230.8h-1.55ZM174.70 167.2h1.55V231.0h-1.55ZM176.95 175.0h1.55V230.5h-1.55ZM179.21 176.9h1.55V230.2h-1.55ZM181.46 167.1h1.55V229.2h-1.55ZM183.71 178.9h1.55V229.7h-1.55ZM185.97 153.4h1.55V230.6h-1.55ZM188.22 157.4h1.55V231.3h-1.55ZM190.47 158.0h1.55V230.7h-1.55ZM192.73 160.9h1.55V228.5h-1.55ZM194.98 173.1h1.55V231.1h-1.55ZM197.23 166.9h1.55V229.7h-1.55ZM199.49 150.2h1.55V229.5h-1.55ZM201.74 169.0h1.55V232.0h-1.55ZM203.99 157.0h1.55V230.0h-1.55ZM206.25 159.2h1.55V228.4h-1.55ZM208.50 166.9h1.55V232.6h-1.55ZM210.75 156.5h1.55V230.5h-1.55ZM213.01 165.9h1.55V230.2h-1.55ZM215.26 175.2h1.55V231.1h-1.55ZM217.51 177.2h1.55V229.4h-1.55ZM219.77 173.1h1.55V230.1h-1.55ZM222.02 172.9h1.55V231.9h-1.55ZM224.28 164.0h1.55V229.0h-1.55ZM226.53 158.9h1.55V229.2h-1.55ZM228.78 150.2h1.55V228.8h-1.55ZM231.04 135.4h1.55V228.2h-1.55ZM233.29 139.8h1.55V229.6h-1.55ZM235.54 157.4h1.55V229.9h-1.55ZM237.80 155.1h1.55V231.7h-1.55ZM240.05 148.5h1.55V229.3h-1.55ZM242.30 169.2h1.55V230.8h-1.55ZM244.56 161.1h1.55V230.6h-1.55ZM246.81 172.3h1.55V231.7h-1.55ZM249.06 174.3h1.55V231.3h-1.55ZM251.32 155.9h1.55V230.7h-1.55ZM253.57 163.9h1.55V228.4h-1.55ZM255.82 175.0h1.55V232.7h-1.55ZM258.08 181.8h1.55V231.9h-1.55ZM260.33 157.4h1.55V229.7h-1.55ZM262.58 176.0h1.55V228.2h-1.55ZM264.84 171.9h1.55V229.3h-1.55ZM267.09 166.0h1.55V232.5h-1.55ZM269.34 170.0h1.55V233.3h-1.55ZM271.60 174.6h1.55V229.6h-1.55ZM273.85 155.1h1.55V231.0h-1.55ZM276.10 170.0h1.55V231.5h-1.55ZM278.36 151.3h1.55V228.8h-1.55ZM280.61 159.4h1.55V228.6h-1.55ZM282.86 160.3h1.55V229.8h-1.55ZM285.12 176.8h1.55V229.7h-1.55ZM287.37 173.1h1.55V229.5h-1.55ZM289.62 172.7h1.55V228.0h-1.55ZM291.88 163.5h1.55V229.3h-1.55ZM294.13 152.3h1.55V229.4h-1.55ZM296.38 154.9h1.55V229.3h-1.55ZM298.64 176.9h1.55V232.1h-1.55ZM300.89 170.2h1.55V228.4h-1.55ZM303.14 163.0h1.55V228.8h-1.55ZM305.40 167.9h1.55V229.4h-1.55ZM307.65 159.2h1.55V232.6h-1.55ZM309.90 166.7h1.55V230.9h-1.55ZM312.16 166.7h1.55V229.0h-1.55ZM314.41 161.7h1.55V232.4h-1.55ZM316.66 157.2h1.55V230.3h-1.55ZM318.92 167.6h1.55V228.7h-1.55ZM321.17 148.5h1.55V231.7h-1.55ZM323.42 164.0h1.55V228.0h-1.55ZM325.68 164.6h1.55V229.3h-1.55ZM327.93 156.0h1.55V230.2h-1.55ZM330.19 157.8h1.55V229.6h-1.55ZM332.44 160.1h1.55V229.2h-1.55ZM334.69 169.5h1.55V229.9h-1.55ZM336.95 178.9h1.55V228.6h-1.55ZM339.20 166.1h1.55V230.9h-1.55ZM341.45 172.2h1.55V230.6h-1.55ZM343.71 170.2h1.55V228.7h-1.55ZM345.96 180.9h1.55V230.0h-1.55ZM348.21 175.5h1.55V231.2h-1.55ZM350.47 164.2h1.55V228.8h-1.55ZM352.72 137.1h1.55V228.2h-1.55ZM354.97 165.2h1.55V230.6h-1.55ZM357.23 175.5h1.55V231.8h-1.55ZM359.48 161.1h1.55V230.2h-1.55ZM361.73 170.2h1.55V230.2h-1.55ZM363.99 162.9h1.55V230.4h-1.55ZM366.24 163.0h1.55V228.2h-1.55ZM368.49 160.1h1.55V231.4h-1.55ZM370.75 156.0h1.55V228.4h-1.55ZM373.00 151.1h1.55V231.7h-1.55ZM375.25 163.0h1.55V231.1h-1.55ZM377.51 154.5h1.55V229.2h-1.55ZM379.76 165.9h1.55V228.6h-1.55ZM382.01 171.4h1.55V228.9h-1.55ZM384.27 165.1h1.55V229.6h-1.55ZM386.52 167.9h1.55V229.9h-1.55ZM388.77 170.0h1.55V229.9h-1.55ZM391.03 163.2h1.55V229.3h-1.55ZM393.28 155.5h1.55V230.3h-1.55ZM395.53 150.2h1.55V229.7h-1.55ZM397.79 168.8h1.55V229.3h-1.55ZM400.04 156.0h1.55V230.0h-1.55ZM402.29 165.9h1.55V229.1h-1.55ZM404.55 169.3h1.55V229.3h-1.55ZM406.80 154.1h1.55V227.5h-1.55ZM409.05 166.0h1.55V229.6h-1.55ZM411.31 161.4h1.55V230.6h-1.55ZM413.56 170.9h1.55V230.5h-1.55ZM415.81 170.9h1.55V230.1h-1.55ZM418.07 175.1h1.55V228.9h-1.55ZM420.32 168.2h1.55V230.5h-1.55ZM422.57 180.1h1.55V229.6h-1.55ZM424.83 167.1h1.55V227.7h-1.55ZM427.08 184.7h1.55V233.3h-1.55ZM429.33 169.4h1.55V231.5h-1.55ZM431.59 170.9h1.55V229.7h-1.55ZM433.84 176.1h1.55V229.5h-1.55ZM436.09 176.8h1.55V229.7h-1.55ZM438.35 172.6h1.55V230.6h-1.55ZM440.60 178.3h1.55V229.2h-1.55ZM442.86 174.8h1.55V229.7h-1.55ZM445.11 174.0h1.55V230.7h-1.55ZM447.36 185.9h1.55V226.9h-1.55ZM449.62 171.4h1.55V229.6h-1.55ZM451.87 177.7h1.55V230.8h-1.55ZM454.12 183.0h1.55V230.2h-1.55ZM456.38 173.1h1.55V230.3h-1.55ZM458.63 160.9h1.55V230.1h-1.55ZM460.88 152.6h1.55V233.6h-1.55ZM463.14 176.9h1.55V230.7h-1.55ZM465.39 173.9h1.55V228.7h-1.55ZM467.64 163.9h1.55V231.6h-1.55ZM469.90 173.1h1.55V230.1h-1.55ZM472.15 169.0h1.55V228.8h-1.55ZM474.40 166.1h1.55V228.9h-1.55ZM476.66 169.0h1.55V228.1h-1.55ZM478.91 181.8h1.55V232.2h-1.55ZM481.16 166.9h1.55V230.5h-1.55ZM483.42 168.8h1.55V230.5h-1.55ZM485.67 169.0h1.55V229.2h-1.55ZM487.92 175.1h1.55V228.6h-1.55ZM490.18 164.2h1.55V233.5h-1.55ZM492.43 170.0h1.55V228.6h-1.55ZM494.68 164.0h1.55V231.9h-1.55ZM496.94 174.8h1.55V229.2h-1.55ZM499.19 160.9h1.55V232.0h-1.55ZM501.44 178.3h1.55V229.8h-1.55ZM503.70 183.5h1.55V228.5h-1.55ZM505.95 160.3h1.55V230.2h-1.55ZM508.20 164.0h1.55V229.8h-1.55ZM510.46 176.6h1.55V229.0h-1.55ZM512.71 168.8h1.55V229.9h-1.55ZM514.96 168.8h1.55V230.2h-1.55ZM517.22 151.1h1.55V228.1h-1.55ZM519.47 163.2h1.55V228.7h-1.55ZM521.72 176.0h1.55V230.4h-1.55ZM523.98 166.4h1.55V226.5h-1.55ZM526.23 175.4h1.55V231.5h-1.55ZM528.48 165.0h1.55V228.9h-1.55ZM530.74 145.6h1.55V230.4h-1.55ZM532.99 158.4h1.55V229.9h-1.55ZM535.24 167.1h1.55V229.1h-1.55ZM537.50 170.2h1.55V229.8h-1.55ZM539.75 163.5h1.55V229.2h-1.55ZM542.00 172.9h1.55V232.0h-1.55ZM544.26 158.9h1.55V232.0h-1.55ZM546.51 167.3h1.55V229.3h-1.55ZM548.76 160.9h1.55V231.3h-1.55ZM551.02 163.0h1.55V231.4h-1.55ZM553.27 146.1h1.55V231.9h-1.55ZM555.52 147.9h1.55V228.4h-1.55ZM557.78 161.1h1.55V229.1h-1.55ZM560.03 163.8h1.55V228.2h-1.55ZM562.29 167.3h1.55V231.3h-1.55ZM564.54 160.9h1.55V230.0h-1.55ZM566.79 163.9h1.55V231.5h-1.55ZM569.05 167.3h1.55V229.1h-1.55ZM571.30 158.0h1.55V228.0h-1.55ZM573.55 158.4h1.55V231.2h-1.55ZM575.81 160.0h1.55V228.0h-1.55ZM578.06 171.7h1.55V228.8h-1.55ZM580.31 147.9h1.55V230.3h-1.55ZM582.57 155.1h1.55V232.6h-1.55ZM584.82 150.2h1.55V228.2h-1.55ZM587.07 172.2h1.55V230.2h-1.55ZM589.33 152.2h1.55V230.8h-1.55ZM591.58 166.4h1.55V229.5h-1.55ZM593.83 168.8h1.55V229.5h-1.55ZM596.09 183.9h1.55V228.1h-1.55ZM598.34 154.0h1.55V231.4h-1.55ZM600.59 160.0h1.55V228.6h-1.55ZM602.85 158.2h1.55V228.1h-1.55ZM605.10 158.2h1.55V228.2h-1.55ZM607.35 173.4h1.55V230.3h-1.55ZM609.61 165.1h1.55V231.0h-1.55ZM611.86 169.0h1.55V228.7h-1.55ZM614.11 170.0h1.55V229.9h-1.55ZM616.37 171.4h1.55V229.9h-1.55ZM618.62 175.8h1.55V228.2h-1.55ZM620.87 167.9h1.55V230.4h-1.55ZM623.13 171.9h1.55V233.0h-1.55ZM625.38 173.9h1.55V230.5h-1.55ZM627.63 177.7h1.55V232.4h-1.55ZM629.89 171.4h1.55V229.0h-1.55ZM632.14 172.3h1.55V229.6h-1.55ZM634.39 167.6h1.55V230.8h-1.55ZM636.65 164.0h1.55V230.1h-1.55ZM638.90 168.8h1.55V229.0h-1.55ZM641.15 176.9h1.55V229.9h-1.55ZM643.41 169.0h1.55V228.3h-1.55ZM645.66 170.0h1.55V230.1h-1.55ZM647.91 167.9h1.55V228.7h-1.55ZM650.17 173.1h1.55V228.1h-1.55ZM652.42 156.3h1.55V228.0h-1.55ZM654.67 156.3h1.55V230.9h-1.55ZM656.93 165.0h1.55V228.9h-1.55ZM659.18 163.0h1.55V232.5h-1.55ZM661.43 157.2h1.55V231.4h-1.55ZM663.69 167.9h1.55V232.6h-1.55ZM665.94 157.2h1.55V228.7h-1.55ZM668.20 174.8h1.55V231.6h-1.55ZM670.45 170.4h1.55V230.1h-1.55ZM672.70 163.8h1.55V230.3h-1.55ZM674.96 165.9h1.55V230.1h-1.55ZM677.21 165.0h1.55V230.8h-1.55ZM679.46 168.8h1.55V229.7h-1.55ZM681.72 160.9h1.55V227.7h-1.55ZM683.97 163.0h1.55V230.0h-1.55ZM686.22 170.0h1.55V229.4h-1.55ZM688.48 164.0h1.55V228.8h-1.55ZM690.73 171.0h1.55V230.3h-1.55ZM692.98 165.0h1.55V231.7h-1.55ZM695.24 170.0h1.55V230.8h-1.55ZM697.49 174.8h1.55V228.7h-1.55ZM699.74 156.5h1.55V232.2h-1.55ZM702.00 160.3h1.55V230.8h-1.55ZM704.25 141.2h1.55V228.8h-1.55ZM706.50 160.0h1.55V229.0h-1.55ZM708.76 160.0h1.55V230.0h-1.55ZM711.01 173.4h1.55V229.0h-1.55ZM713.26 154.3h1.55V229.8h-1.55ZM715.52 173.9h1.55V231.6h-1.55ZM717.77 173.9h1.55V232.1h-1.55ZM720.02 166.9h1.55V230.9h-1.55ZM722.28 169.3h1.55V228.9h-1.55ZM724.53 170.0h1.55V230.8h-1.55ZM726.78 176.0h1.55V231.2h-1.55ZM729.04 161.7h1.55V231.0h-1.55ZM731.29 170.0h1.55V232.0h-1.55ZM733.54 174.3h1.55V230.2h-1.55ZM735.80 177.7h1.55V231.6h-1.55ZM738.05 170.0h1.55V229.6h-1.55ZM740.30 158.4h1.55V233.1h-1.55ZM742.56 158.9h1.55V229.6h-1.55ZM744.81 160.9h1.55V230.9h-1.55ZM747.06 174.8h1.55V232.5h-1.55ZM749.32 165.9h1.55V229.1h-1.55ZM751.57 166.9h1.55V230.4h-1.55ZM753.82 160.0h1.55V232.9h-1.55ZM756.08 158.8h1.55V231.2h-1.55ZM758.33 164.4h1.55V229.7h-1.55ZM760.58 171.0h1.55V230.6h-1.55ZM762.84 175.4h1.55V229.0h-1.55ZM765.09 162.7h1.55V229.1h-1.55ZM767.34 176.0h1.55V229.2h-1.55ZM769.60 171.9h1.55V229.6h-1.55ZM771.85 165.9h1.55V228.3h-1.55ZM774.10 163.0h1.55V229.2h-1.55ZM776.36 171.9h1.55V229.5h-1.55ZM778.61 153.4h1.55V232.7h-1.55ZM780.87 173.9h1.55V228.9h-1.55ZM783.12 166.1h1.55V228.4h-1.55ZM785.37 173.9h1.55V230.4h-1.55ZM787.63 165.0h1.55V230.7h-1.55ZM789.88 171.0h1.55V227.5h-1.55ZM792.13 179.8h1.55V232.3h-1.55ZM794.39 180.6h1.55V229.4h-1.55ZM796.64 176.0h1.55V226.9h-1.55ZM798.89 146.4h1.55V231.2h-1.55ZM801.15 156.3h1.55V229.2h-1.55ZM803.40 165.0h1.55V227.6h-1.55ZM805.65 171.0h1.55V230.2h-1.55ZM807.91 167.6h1.55V229.3h-1.55ZM810.16 174.8h1.55V228.9h-1.55ZM812.41 172.5h1.55V231.2h-1.55ZM814.67 165.0h1.55V230.2h-1.55ZM816.92 172.3h1.55V229.7h-1.55ZM819.17 166.1h1.55V229.0h-1.55ZM821.43 167.9h1.55V230.1h-1.55ZM823.68 171.9h1.55V230.3h-1.55ZM825.93 160.3h1.55V231.4h-1.55ZM828.19 171.9h1.55V230.5h-1.55ZM830.44 177.7h1.55V228.9h-1.55ZM832.69 164.0h1.55V229.9h-1.55ZM834.95 167.6h1.55V231.1h-1.55ZM837.20 173.9h1.55V231.1h-1.55ZM839.45 170.5h1.55V226.6h-1.55ZM841.71 169.0h1.55V228.6h-1.55ZM843.96 174.8h1.55V229.2h-1.55ZM846.21 167.9h1.55V233.4h-1.55ZM848.47 168.8h1.55V229.2h-1.55ZM850.72 176.8h1.55V229.4h-1.55ZM852.97 163.8h1.55V227.9h-1.55ZM855.23 168.8h1.55V229.5h-1.55ZM857.48 172.7h1.55V230.1h-1.55ZM859.73 174.8h1.55V229.4h-1.55ZM861.99 154.3h1.55V232.6h-1.55ZM864.24 173.9h1.55V228.7h-1.55ZM866.49 158.2h1.55V229.6h-1.55ZM868.75 158.6h1.55V231.0h-1.55ZM871.00 182.4h1.55V228.3h-1.55ZM873.25 178.3h1.55V227.7h-1.55ZM875.51 160.9h1.55V231.9h-1.55ZM877.76 142.1h1.55V230.9h-1.55ZM880.01 168.1h1.55V229.7h-1.55ZM882.27 166.1h1.55V229.8h-1.55ZM884.52 166.1h1.55V230.6h-1.55ZM886.77 144.4h1.55V231.3h-1.55ZM889.03 157.2h1.55V227.3h-1.55ZM891.28 163.5h1.55V228.7h-1.55ZM893.54 150.7h1.55V231.6h-1.55ZM895.79 166.1h1.55V231.8h-1.55ZM898.04 166.9h1.55V227.9h-1.55ZM900.30 164.0h1.55V228.8h-1.55ZM902.55 161.1h1.55V227.7h-1.55ZM904.80 165.0h1.55V229.0h-1.55ZM907.06 178.9h1.55V231.2h-1.55ZM909.31 151.9h1.55V229.7h-1.55ZM911.56 162.1h1.55V232.8h-1.55ZM913.82 168.1h1.55V231.0h-1.55ZM916.07 145.6h1.55V230.1h-1.55ZM918.32 163.2h1.55V229.4h-1.55ZM920.58 166.9h1.55V231.0h-1.55ZM922.83 165.0h1.55V230.2h-1.55ZM925.08 172.9h1.55V229.5h-1.55ZM927.34 157.2h1.55V229.6h-1.55ZM929.59 158.2h1.55V229.2h-1.55ZM931.84 169.0h1.55V229.8h-1.55ZM934.10 170.0h1.55V230.5h-1.55ZM936.35 149.3h1.55V229.0h-1.55ZM938.60 167.9h1.55V230.0h-1.55ZM940.86 165.2h1.55V231.1h-1.55ZM943.11 169.0h1.55V230.9h-1.55ZM945.36 158.0h1.55V230.0h-1.55ZM947.62 173.1h1.55V230.2h-1.55ZM949.87 170.0h1.55V229.8h-1.55ZM952.12 163.5h1.55V230.0h-1.55ZM954.38 173.1h1.55V229.8h-1.55ZM956.63 160.9h1.55V230.2h-1.55ZM958.88 163.2h1.55V231.7h-1.55ZM961.14 168.8h1.55V229.5h-1.55ZM963.39 172.9h1.55V228.7h-1.55ZM965.64 171.0h1.55V229.5h-1.55ZM967.90 163.2h1.55V230.3h-1.55ZM970.15 165.6h1.55V229.5h-1.55ZM972.40 155.1h1.55V231.3h-1.55ZM974.66 157.2h1.55V232.5h-1.55ZM976.91 152.2h1.55V230.0h-1.55ZM979.16 173.1h1.55V231.2h-1.55ZM981.42 173.9h1.55V229.1h-1.55ZM983.67 177.2h1.55V231.4h-1.55ZM985.92 167.9h1.55V233.4h-1.55ZM988.18 164.4h1.55V231.4h-1.55ZM990.43 168.8h1.55V228.0h-1.55ZM992.68 183.0h1.55V230.5h-1.55ZM994.94 160.9h1.55V231.8h-1.55ZM997.19 168.2h1.55V231.0h-1.55ZM999.44 171.9h1.55V229.4h-1.55ZM1001.70 168.2h1.55V229.4h-1.55ZM1003.95 158.2h1.55V229.8h-1.55ZM1006.21 183.9h1.55V228.1h-1.55ZM1008.46 160.9h1.55V229.1h-1.55ZM1010.71 169.0h1.55V230.1h-1.55ZM1012.97 170.0h1.55V229.3h-1.55ZM1015.22 163.5h1.55V227.9h-1.55ZM1017.47 170.2h1.55V228.8h-1.55ZM1019.73 178.9h1.55V228.7h-1.55ZM1021.98 167.9h1.55V231.4h-1.55ZM1024.23 166.9h1.55V230.2h-1.55ZM1026.49 160.9h1.55V229.1h-1.55ZM1028.74 163.5h1.55V230.4h-1.55ZM1030.99 168.8h1.55V228.7h-1.55ZM1033.25 178.0h1.55V229.3h-1.55ZM1035.50 162.1h1.55V228.9h-1.55ZM1037.75 166.1h1.55V230.3h-1.55ZM1040.01 170.0h1.55V226.8h-1.55ZM1042.26 172.9h1.55V228.5h-1.55ZM1044.51 158.0h1.55V230.3h-1.55ZM1046.77 166.9h1.55V229.9h-1.55ZM1049.02 174.8h1.55V226.7h-1.55ZM1051.27 163.5h1.55V230.5h-1.55ZM1053.53 162.7h1.55V228.9h-1.55ZM1055.78 162.4h1.55V228.8h-1.55ZM1058.03 170.2h1.55V230.0h-1.55ZM1060.29 177.7h1.55V231.6h-1.55ZM1062.54 174.8h1.55V229.8h-1.55ZM1064.79 180.6h1.55V229.6h-1.55ZM1067.05 168.8h1.55V228.6h-1.55ZM1069.30 168.2h1.55V229.0h-1.55ZM1071.55 165.0h1.55V230.0h-1.55ZM1073.81 163.2h1.55V228.9h-1.55ZM1076.06 171.9h1.55V229.4h-1.55ZM1078.31 166.1h1.55V229.8h-1.55ZM1080.57 166.9h1.55V230.0h-1.55ZM1082.82 158.9h1.55V230.4h-1.55ZM1085.07 168.8h1.55V229.2h-1.55ZM1087.33 163.2h1.55V231.4h-1.55ZM1089.58 165.0h1.55V230.9h-1.55ZM1091.83 157.4h1.55V230.0h-1.55ZM1094.09 171.9h1.55V231.9h-1.55ZM1096.34 179.5h1.55V230.6h-1.55ZM1098.59 152.2h1.55V232.6h-1.55ZM1100.85 162.1h1.55V230.9h-1.55ZM1103.10 142.1h1.55V229.3h-1.55ZM1105.35 167.3h1.55V229.3h-1.55ZM1107.61 168.8h1.55V230.1h-1.55ZM1109.86 160.9h1.55V230.3h-1.55ZM1112.11 176.8h1.55V231.9h-1.55ZM1114.37 169.0h1.55V227.7h-1.55ZM1116.62 168.2h1.55V229.4h-1.55ZM1118.88 176.8h1.55V228.6h-1.55ZM1121.13 162.4h1.55V231.2h-1.55ZM1123.38 170.4h1.55V230.3h-1.55ZM1125.64 165.0h1.55V232.4h-1.55ZM1127.89 166.9h1.55V229.0h-1.55ZM1130.14 167.9h1.55V228.8h-1.55ZM1132.40 166.1h1.55V232.5h-1.55ZM1134.65 171.0h1.55V230.1h-1.55ZM1136.90 158.0h1.55V229.2h-1.55ZM1139.16 172.5h1.55V232.3h-1.55ZM1141.41 174.8h1.55V232.4h-1.55ZM1143.66 169.0h1.55V231.4h-1.55ZM1145.92 149.9h1.55V230.9h-1.55ZM1148.17 171.0h1.55V231.9h-1.55ZM1150.42 176.9h1.55V230.0h-1.55ZM1152.68 167.3h1.55V229.7h-1.55ZM1154.93 176.8h1.55V229.2h-1.55ZM1157.18 167.9h1.55V229.1h-1.55ZM1159.44 176.0h1.55V228.1h-1.55ZM1161.69 169.0h1.55V228.5h-1.55ZM1163.94 163.2h1.55V231.7h-1.55ZM1166.20 161.1h1.55V230.7h-1.55ZM1168.45 160.9h1.55V231.4h-1.55ZM1170.70 145.3h1.55V231.4h-1.55ZM1172.96 173.1h1.55V230.2h-1.55ZM1175.21 164.4h1.55V230.0h-1.55ZM1177.46 160.9h1.55V229.4h-1.55ZM1179.72 152.6h1.55V232.1h-1.55ZM1181.97 167.9h1.55V231.6h-1.55ZM1184.22 177.2h1.55V230.1h-1.55ZM1186.48 161.8h1.55V230.3h-1.55ZM1188.73 182.4h1.55V230.4h-1.55ZM1190.98 165.6h1.55V230.1h-1.55ZM1193.24 163.2h1.55V231.0h-1.55ZM1195.49 168.8h1.55V229.1h-1.55ZM1197.74 173.9h1.55V229.6h-1.55ZM1200.00 176.8h1.55V230.2h-1.55ZM1202.25 163.0h1.55V230.9h-1.55ZM1204.50 161.5h1.55V230.3h-1.55ZM1206.76 170.0h1.55V233.6h-1.55ZM1209.01 171.0h1.55V231.3h-1.55ZM1211.26 178.0h1.55V230.0h-1.55ZM1213.52 167.9h1.55V232.0h-1.55ZM1215.77 157.8h1.55V229.8h-1.55ZM1218.02 160.3h1.55V229.9h-1.55ZM1220.28 176.9h1.55V231.8h-1.55ZM1222.53 163.2h1.55V230.4h-1.55ZM1224.78 173.4h1.55V230.5h-1.55ZM1227.04 169.0h1.55V229.5h-1.55ZM1229.29 160.9h1.55V229.3h-1.55ZM1231.54 161.1h1.55V230.1h-1.55ZM1233.80 161.1h1.55V231.1h-1.55ZM1236.05 166.9h1.55V230.2h-1.55ZM1238.31 171.0h1.55V230.1h-1.55ZM1240.56 166.1h1.55V229.1h-1.55ZM1242.81 171.0h1.55V229.7h-1.55ZM1245.07 144.1h1.55V231.0h-1.55ZM1247.32 141.2h1.55V231.8h-1.55ZM1249.57 145.3h1.55V230.5h-1.55ZM1251.83 147.2h1.55V231.0h-1.55ZM1254.08 178.0h1.55V231.5h-1.55ZM1256.33 143.3h1.55V230.2h-1.55ZM1258.59 160.1h1.55V230.7h-1.55ZM1260.84 173.9h1.55V229.9h-1.55ZM1263.09 185.3h1.55V229.4h-1.55ZM1265.35 170.2h1.55V230.6h-1.55ZM1267.60 151.4h1.55V227.1h-1.55ZM1269.85 144.1h1.55V230.5h-1.55ZM1272.11 160.9h1.55V228.6h-1.55ZM1274.36 168.2h1.55V229.9h-1.55ZM1276.61 158.6h1.55V228.6h-1.55ZM1278.87 152.2h1.55V233.1h-1.55ZM1281.12 169.4h1.55V231.0h-1.55ZM1283.37 160.0h1.55V229.7h-1.55ZM1285.63 174.3h1.55V229.3h-1.55ZM1287.88 167.1h1.55V227.0h-1.55ZM1290.13 160.3h1.55V229.6h-1.55ZM1292.39 151.1h1.55V228.4h-1.55ZM1294.64 149.6h1.55V229.1h-1.55ZM1296.89 163.5h1.55V228.8h-1.55ZM1299.15 173.9h1.55V229.4h-1.55ZM1301.40 157.2h1.55V230.2h-1.55ZM1303.65 165.2h1.55V229.4h-1.55ZM1305.91 162.4h1.55V231.4h-1.55ZM1308.16 163.8h1.55V228.5h-1.55ZM1310.41 143.3h1.55V231.4h-1.55ZM1312.67 156.0h1.55V229.7h-1.55ZM1314.92 160.9h1.55V227.3h-1.55ZM1317.17 154.9h1.55V230.3h-1.55ZM1319.43 151.4h1.55V230.0h-1.55ZM1321.68 155.4h1.55V228.6h-1.55ZM1323.93 166.1h1.55V230.0h-1.55ZM1326.19 164.7h1.55V231.1h-1.55ZM1328.44 167.1h1.55V229.7h-1.55ZM1330.69 176.9h1.55V229.3h-1.55ZM1332.95 172.9h1.55V229.1h-1.55ZM1335.20 163.0h1.55V231.0h-1.55ZM1337.45 165.3h1.55V227.8h-1.55ZM1339.71 158.6h1.55V227.9h-1.55ZM1341.96 126.7h1.55V230.0h-1.55ZM1344.21 174.0h1.55V229.7h-1.55ZM1346.47 178.3h1.55V230.6h-1.55ZM1348.72 167.9h1.55V228.2h-1.55ZM1350.98 158.4h1.55V231.0h-1.55ZM1353.23 163.8h1.55V229.2h-1.55ZM1355.48 160.1h1.55V230.7h-1.55ZM1357.74 159.2h1.55V230.9h-1.55ZM1359.99 153.1h1.55V229.1h-1.55ZM1362.24 159.5h1.55V228.3h-1.55ZM1364.50 165.9h1.55V230.1h-1.55ZM1366.75 163.0h1.55V230.9h-1.55ZM1369.00 156.3h1.55V229.0h-1.55ZM1371.26 163.0h1.55V230.1h-1.55ZM1373.51 158.2h1.55V229.6h-1.55ZM1375.76 162.3h1.55V228.1h-1.55ZM1378.02 160.3h1.55V228.6h-1.55ZM1380.27 172.3h1.55V230.7h-1.55ZM1382.52 166.1h1.55V227.1h-1.55ZM1384.78 157.1h1.55V230.0h-1.55ZM1387.03 157.1h1.55V229.0h-1.55ZM1389.28 162.0h1.55V230.9h-1.55ZM1391.54 170.9h1.55V230.1h-1.55ZM1393.79 157.4h1.55V232.3h-1.55ZM1396.04 165.3h1.55V227.7h-1.55ZM1398.30 164.1h1.55V228.3h-1.55ZM1400.55 160.1h1.55V231.6h-1.55ZM1402.80 165.1h1.55V232.0h-1.55ZM1405.06 151.3h1.55V232.1h-1.55ZM1407.31 152.7h1.55V228.5h-1.55ZM1409.56 157.1h1.55V230.6h-1.55ZM1411.82 152.3h1.55V230.1h-1.55ZM1414.07 162.4h1.55V230.5h-1.55ZM1416.32 160.4h1.55V230.2h-1.55ZM1418.58 159.2h1.55V231.4h-1.55ZM1420.83 163.9h1.55V230.0h-1.55ZM1423.08 159.2h1.55V231.9h-1.55ZM1425.34 151.6h1.55V230.1h-1.55ZM1427.59 172.3h1.55V229.6h-1.55ZM1429.84 155.5h1.55V229.4h-1.55ZM1432.10 161.0h1.55V230.3h-1.55ZM1434.35 159.2h1.55V231.2h-1.55ZM1436.60 168.2h1.55V229.8h-1.55ZM1438.86 176.9h1.55V230.7h-1.55ZM1441.11 173.4h1.55V228.0h-1.55ZM1443.36 161.6h1.55V229.1h-1.55ZM1445.62 172.0h1.55V230.2h-1.55ZM1447.87 156.0h1.55V230.7h-1.55ZM1450.12 166.1h1.55V231.0h-1.55ZM1452.38 143.4h1.55V231.3h-1.55ZM1454.63 148.1h1.55V230.5h-1.55ZM1456.88 170.2h1.55V229.7h-1.55ZM1459.14 155.5h1.55V229.4h-1.55ZM1461.39 144.4h1.55V229.3h-1.55ZM1463.65 157.7h1.55V227.3h-1.55ZM1465.90 167.4h1.55V231.0h-1.55ZM1468.15 168.5h1.55V230.0h-1.55ZM1470.41 158.3h1.55V226.4h-1.55ZM1472.66 165.3h1.55V232.5h-1.55ZM1474.91 167.4h1.55V230.7h-1.55ZM1477.17 152.5h1.55V229.8h-1.55ZM1479.42 163.0h1.55V229.8h-1.55ZM1481.67 164.1h1.55V229.5h-1.55ZM1483.93 168.5h1.55V230.4h-1.55ZM1486.18 164.1h1.55V229.6h-1.55ZM1488.43 156.3h1.55V230.0h-1.55ZM1490.69 160.1h1.55V226.2h-1.55ZM1492.94 165.1h1.55V229.7h-1.55ZM1495.19 165.3h1.55V228.4h-1.55ZM1497.45 156.3h1.55V227.2h-1.55ZM1499.70 163.5h1.55V228.5h-1.55ZM1501.95 166.8h1.55V228.6h-1.55ZM1504.21 169.9h1.55V226.4h-1.55ZM1506.46 161.6h1.55V228.1h-1.55ZM1508.71 161.2h1.55V226.4h-1.55ZM1510.97 172.0h1.55V223.2h-1.55ZM1513.22 172.0h1.55V223.7h-1.55ZM1515.47 169.0h1.55V223.5h-1.55ZM1517.73 157.7h1.55V224.3h-1.55ZM1519.98 170.2h1.55V225.9h-1.55ZM1522.23 164.1h1.55V224.2h-1.55ZM1524.49 142.3h1.55V223.5h-1.55ZM1526.74 167.0h1.55V224.8h-1.55ZM1528.99 172.0h1.55V224.3h-1.55ZM1531.25 155.2h1.55V223.2h-1.55ZM1533.50 167.0h1.55V225.3h-1.55ZM1535.75 174.6h1.55V223.3h-1.55ZM1538.01 179.0h1.55V221.7h-1.55ZM1540.26 167.6h1.55V224.8h-1.55ZM1542.51 159.1h1.55V223.9h-1.55ZM1544.77 163.2h1.55V224.3h-1.55ZM1547.02 168.5h1.55V222.1h-1.55ZM1549.27 156.0h1.55V223.7h-1.55ZM1551.53 160.4h1.55V223.0h-1.55ZM1553.78 149.2h1.55V225.0h-1.55ZM1556.03 159.1h1.55V224.1h-1.55ZM1558.29 148.2h1.55V224.1h-1.55ZM1560.54 155.4h1.55V226.4h-1.55ZM1562.79 166.4h1.55V222.3h-1.55ZM1565.05 159.1h1.55V223.0h-1.55ZM1567.30 152.5h1.55V226.4h-1.55ZM1569.55 162.4h1.55V223.2h-1.55ZM1571.81 163.5h1.55V224.3h-1.55ZM1574.06 159.7h1.55V223.5h-1.55ZM1576.32 156.0h1.55V223.7h-1.55ZM1578.57 155.4h1.55V226.1h-1.55ZM1580.82 158.5h1.55V224.4h-1.55ZM1583.08 167.6h1.55V222.2h-1.55ZM1585.33 171.7h1.55V224.9h-1.55ZM1587.58 176.0h1.55V225.4h-1.55ZM1589.84 160.6h1.55V229.0h-1.55ZM1592.09 160.6h1.55V228.8h-1.55ZM1594.34 155.1h1.55V226.8h-1.55ZM1596.60 146.5h1.55V225.0h-1.55ZM1598.85 147.3h1.55V226.7h-1.55ZM1601.10 147.3h1.55V226.9h-1.55ZM1603.36 154.6h1.55V224.3h-1.55ZM1605.61 163.9h1.55V227.9h-1.55ZM1607.86 141.1h1.55V228.1h-1.55ZM1610.12 155.4h1.55V229.4h-1.55ZM1612.37 151.1h1.55V229.3h-1.55ZM1614.62 168.2h1.55V231.4h-1.55ZM1616.88 160.3h1.55V231.6h-1.55ZM1619.13 166.1h1.55V229.7h-1.55ZM1621.38 170.2h1.55V229.7h-1.55ZM1623.64 151.3h1.55V231.7h-1.55ZM1625.89 165.5h1.55V230.3h-1.55ZM1628.14 168.2h1.55V230.7h-1.55ZM1630.40 166.4h1.55V228.7h-1.55ZM1632.65 165.3h1.55V229.4h-1.55ZM1634.90 157.7h1.55V229.4h-1.55ZM1637.16 148.7h1.55V229.7h-1.55ZM1639.41 159.5h1.55V227.9h-1.55ZM1641.66 163.5h1.55V227.5h-1.55ZM1643.92 154.0h1.55V229.7h-1.55ZM1646.17 168.8h1.55V228.2h-1.55ZM1648.42 166.4h1.55V230.3h-1.55ZM1650.68 164.1h1.55V229.2h-1.55ZM1652.93 170.9h1.55V228.3h-1.55ZM1655.18 168.2h1.55V227.3h-1.55ZM1657.44 154.2h1.55V229.8h-1.55ZM1659.69 151.9h1.55V229.4h-1.55ZM1661.94 151.3h1.55V229.0h-1.55ZM1664.20 160.1h1.55V231.2h-1.55ZM1666.45 160.1h1.55V229.3h-1.55ZM1668.70 166.4h1.55V230.1h-1.55ZM1670.96 166.8h1.55V228.8h-1.55ZM1673.21 157.4h1.55V230.7h-1.55ZM1675.46 169.0h1.55V231.8h-1.55ZM1677.72 169.0h1.55V229.2h-1.55ZM1679.97 156.9h1.55V228.9h-1.55ZM1682.22 161.0h1.55V230.0h-1.55ZM1684.48 158.3h1.55V228.1h-1.55ZM1686.73 156.9h1.55V229.6h-1.55ZM1688.99 158.0h1.55V230.1h-1.55ZM1691.24 161.0h1.55V228.7h-1.55ZM1693.49 160.1h1.55V231.3h-1.55ZM1695.75 151.3h1.55V230.1h-1.55ZM1698.00 171.1h1.55V229.3h-1.55ZM1700.25 155.4h1.55V228.2h-1.55ZM1702.51 172.8h1.55V229.5h-1.55ZM1704.76 165.9h1.55V228.9h-1.55ZM1707.01 160.4h1.55V230.1h-1.55ZM1709.27 150.5h1.55V228.9h-1.55ZM1711.52 147.0h1.55V227.1h-1.55ZM1713.77 159.1h1.55V230.2h-1.55ZM1716.03 172.8h1.55V226.2h-1.55ZM1718.28 151.6h1.55V230.1h-1.55ZM1720.53 164.1h1.55V226.2h-1.55ZM1722.79 158.3h1.55V226.0h-1.55ZM1725.04 155.2h1.55V224.9h-1.55ZM1727.29 155.2h1.55V227.8h-1.55ZM1729.55 152.3h1.55V228.9h-1.55ZM1731.80 161.6h1.55V225.4h-1.55ZM1734.05 158.5h1.55V225.2h-1.55ZM1736.31 159.1h1.55V225.4h-1.55ZM1738.56 167.8h1.55V222.8h-1.55ZM1740.81 156.0h1.55V229.0h-1.55ZM1743.07 148.4h1.55V228.9h-1.55ZM1745.32 148.4h1.55V228.1h-1.55ZM1747.57 131.6h1.55V228.8h-1.55ZM1749.83 156.0h1.55V227.1h-1.55ZM1752.08 155.2h1.55V230.9h-1.55ZM1754.33 151.1h1.55V229.8h-1.55ZM1756.59 140.3h1.55V233.7h-1.55ZM1758.84 168.0h1.55V228.2h-1.55ZM1761.09 160.1h1.55V229.8h-1.55ZM1763.35 141.8h1.55V228.1h-1.55ZM1765.60 158.5h1.55V226.5h-1.55ZM1767.85 146.5h1.55V229.3h-1.55ZM1770.11 142.3h1.55V229.6h-1.55ZM1772.36 152.3h1.55V229.9h-1.55ZM1774.61 128.3h1.55V230.4h-1.55ZM1776.87 144.4h1.55V230.1h-1.55ZM1779.12 152.3h1.55V228.5h-1.55ZM1781.37 169.9h1.55V229.2h-1.55ZM1783.63 152.3h1.55V229.2h-1.55ZM1785.88 179.0h1.55V229.5h-1.55ZM1788.13 161.2h1.55V228.1h-1.55ZM1790.39 160.6h1.55V228.6h-1.55ZM1792.64 148.4h1.55V229.5h-1.55ZM1794.89 143.4h1.55V228.4h-1.55ZM1797.15 158.1h1.55V229.5h-1.55ZM1799.40 153.3h1.55V230.8h-1.55ZM1801.66 169.1h1.55V227.4h-1.55ZM1803.91 169.1h1.55V228.7h-1.55ZM1806.16 179.8h1.55V230.5h-1.55ZM1808.42 159.5h1.55V227.9h-1.55ZM1810.67 174.9h1.55V226.3h-1.55ZM1812.92 169.0h1.55V228.7h-1.55ZM1815.18 153.1h1.55V224.6h-1.55ZM1817.43 154.8h1.55V226.3h-1.55ZM1819.68 137.4h1.55V225.6h-1.55ZM1821.94 158.5h1.55V226.4h-1.55ZM1824.19 158.9h1.55V226.9h-1.55ZM1826.44 156.2h1.55V228.7h-1.55ZM1828.70 160.1h1.55V225.4h-1.55ZM1830.95 164.1h1.55V226.7h-1.55ZM1833.20 167.0h1.55V227.1h-1.55ZM1835.46 165.9h1.55V226.2h-1.55ZM1837.71 163.5h1.55V226.6h-1.55ZM1839.96 164.1h1.55V225.8h-1.55ZM1842.22 168.5h1.55V227.2h-1.55ZM1844.47 166.1h1.55V226.7h-1.55ZM1846.72 157.1h1.55V229.5h-1.55ZM1848.98 130.6h1.55V227.2h-1.55ZM1851.23 144.7h1.55V225.8h-1.55ZM1853.48 154.6h1.55V225.0h-1.55ZM1855.74 159.1h1.55V229.7h-1.55ZM1857.99 147.5h1.55V229.4h-1.55ZM1860.24 161.0h1.55V227.2h-1.55ZM1862.50 167.0h1.55V229.7h-1.55ZM1864.75 174.6h1.55V228.3h-1.55ZM1867.00 159.1h1.55V227.1h-1.55ZM1869.26 154.2h1.55V229.2h-1.55ZM1871.51 168.2h1.55V227.7h-1.55ZM1873.76 175.7h1.55V230.2h-1.55ZM1876.02 175.7h1.55V229.0h-1.55ZM1878.27 162.4h1.55V229.4h-1.55ZM1880.52 163.0h1.55V229.1h-1.55ZM1882.78 146.1h1.55V227.8h-1.55ZM1885.03 165.1h1.55V226.2h-1.55ZM1887.28 160.1h1.55V230.1h-1.55ZM1889.54 170.5h1.55V230.0h-1.55ZM1891.79 163.0h1.55V228.6h-1.55ZM1894.04 154.2h1.55V230.6h-1.55ZM1896.30 167.0h1.55V228.6h-1.55ZM1898.55 163.2h1.55V228.5h-1.55ZM1900.80 166.1h1.55V229.6h-1.55ZM1903.06 162.7h1.55V228.6h-1.55ZM1905.31 150.2h1.55V231.3h-1.55ZM1907.56 158.3h1.55V228.3h-1.55ZM1909.82 168.0h1.55V231.3h-1.55ZM1912.07 159.1h1.55V230.2h-1.55ZM1914.33 168.5h1.55V230.0h-1.55ZM1916.58 172.3h1.55V229.8h-1.55ZM1918.83 170.2h1.55V228.2h-1.55ZM1921.09 175.5h1.55V229.2h-1.55ZM1923.34 174.0h1.55V229.8h-1.55ZM1925.59 169.0h1.55V228.6h-1.55ZM1927.85 158.5h1.55V227.2h-1.55ZM1930.10 175.2h1.55V229.3h-1.55ZM1932.35 188.0h1.55V228.8h-1.55ZM1934.61 160.1h1.55V227.7h-1.55ZM1936.86 174.0h1.55V228.9h-1.55ZM1939.11 160.4h1.55V230.9h-1.55ZM1941.37 174.9h1.55V226.1h-1.55ZM1943.62 167.8h1.55V226.4h-1.55ZM1945.87 161.2h1.55V231.8h-1.55ZM1948.13 166.1h1.55V229.3h-1.55ZM1950.38 157.1h1.55V228.7h-1.55ZM1952.63 164.1h1.55V228.0h-1.55ZM1954.89 160.1h1.55V228.4h-1.55ZM1957.14 167.8h1.55V229.6h-1.55ZM1959.39 164.1h1.55V230.6h-1.55ZM1961.65 176.6h1.55V229.1h-1.55ZM1963.90 170.9h1.55V227.9h-1.55ZM1966.15 161.0h1.55V230.7h-1.55ZM1968.41 165.1h1.55V230.6h-1.55ZM1970.66 165.3h1.55V229.3h-1.55ZM1972.91 148.4h1.55V231.8h-1.55ZM1975.17 152.8h1.55V229.6h-1.55ZM1977.42 148.2h1.55V229.8h-1.55ZM1979.67 157.4h1.55V228.7h-1.55ZM1981.93 161.0h1.55V230.2h-1.55ZM1984.18 165.3h1.55V230.4h-1.55ZM1986.43 167.0h1.55V229.8h-1.55ZM1988.69 152.5h1.55V229.3h-1.55ZM1990.94 150.4h1.55V230.1h-1.55ZM1993.19 155.2h1.55V229.3h-1.55ZM1995.45 142.6h1.55V228.3h-1.55ZM1997.70 151.3h1.55V227.7h-1.55ZM1999.95 169.0h1.55V227.1h-1.55ZM2002.21 167.0h1.55V230.3h-1.55ZM2004.46 156.2h1.55V229.8h-1.55ZM2006.71 168.8h1.55V232.5h-1.55ZM2008.97 165.5h1.55V226.8h-1.55ZM2011.22 160.1h1.55V230.2h-1.55ZM2013.47 149.4h1.55V229.3h-1.55ZM2015.73 153.1h1.55V228.6h-1.55ZM2017.98 136.2h1.55V231.0h-1.55ZM2020.23 162.1h1.55V228.7h-1.55ZM2022.49 169.0h1.55V229.3h-1.55ZM2024.74 167.3h1.55V231.6h-1.55ZM2027.00 156.8h1.55V228.9h-1.55ZM2029.25 150.2h1.55V227.7h-1.55ZM2031.50 160.1h1.55V231.7h-1.55ZM2033.76 163.0h1.55V228.2h-1.55ZM2036.01 151.9h1.55V229.0h-1.55ZM2038.26 161.8h1.55V228.7h-1.55ZM2040.52 163.0h1.55V228.7h-1.55ZM2042.77 167.3h1.55V227.6h-1.55ZM2045.02 156.2h1.55V229.6h-1.55ZM2047.28 158.9h1.55V228.2h-1.55ZM2049.53 173.1h1.55V229.8h-1.55ZM2051.78 172.3h1.55V228.3h-1.55ZM2054.04 172.8h1.55V230.3h-1.55ZM2056.29 167.0h1.55V229.4h-1.55ZM2058.54 156.2h1.55V227.0h-1.55ZM2060.80 148.7h1.55V228.7h-1.55ZM2063.05 175.5h1.55V229.5h-1.55ZM2065.30 172.5h1.55V230.7h-1.55ZM2067.56 171.9h1.55V230.3h-1.55ZM2069.81 171.7h1.55V229.0h-1.55ZM2072.06 173.4h1.55V228.1h-1.55ZM2074.32 167.6h1.55V228.7h-1.55ZM2076.57 171.1h1.55V228.6h-1.55ZM2078.82 172.3h1.55V229.3h-1.55ZM2081.08 167.6h1.55V227.5h-1.55ZM2083.33 175.2h1.55V229.8h-1.55ZM2085.58 152.8h1.55V230.0h-1.55ZM2087.84 163.0h1.55V228.1h-1.55ZM2090.09 176.0h1.55V229.2h-1.55ZM2092.34 165.3h1.55V229.6h-1.55ZM2094.60 160.1h1.55V230.0h-1.55ZM2096.85 170.2h1.55V229.6h-1.55ZM2099.10 152.3h1.55V228.5h-1.55ZM2101.36 159.1h1.55V228.8h-1.55ZM2103.61 167.6h1.55V230.8h-1.55ZM2105.86 167.8h1.55V228.7h-1.55ZM2108.12 171.1h1.55V229.0h-1.55ZM2110.37 168.2h1.55V230.6h-1.55ZM2112.62 167.6h1.55V228.3h-1.55ZM2114.88 165.5h1.55V229.6h-1.55ZM2117.13 161.2h1.55V229.7h-1.55ZM2119.38 161.2h1.55V228.3h-1.55ZM2121.64 176.0h1.55V227.6h-1.55ZM2123.89 158.5h1.55V230.2h-1.55ZM2126.14 162.1h1.55V228.7h-1.55ZM2128.40 161.4h1.55V230.4h-1.55ZM2130.65 157.7h1.55V226.3h-1.55Z" fill="#4680e6" fill-opacity="0.42"/>
<path d="M104.84 160.3h0.85V230.4h-0.85ZM107.10 172.5h0.85V229.4h-0.85ZM109.35 166.1h0.85V230.3h-0.85ZM111.61 167.9h0.85V230.5h-0.85ZM113.86 163.0h0.85V231.2h-0.85ZM116.11 169.0h0.85V230.3h-0.85ZM118.37 154.9h0.85V228.6h-0.85ZM120.62 163.0h0.85V229.5h-0.85ZM122.87 155.1h0.85V228.7h-0.85ZM125.13 160.1h0.85V229.7h-0.85ZM127.38 170.4h0.85V229.5h-0.85ZM129.63 163.2h0.85V229.8h-0.85ZM131.89 162.1h0.85V232.2h-0.85ZM134.14 153.4h0.85V228.9h-0.85ZM136.39 166.9h0.85V229.4h-0.85ZM138.65 146.4h0.85V229.4h-0.85ZM140.90 156.5h0.85V232.2h-0.85ZM143.15 173.4h0.85V232.3h-0.85ZM145.41 165.1h0.85V231.2h-0.85ZM147.66 163.9h0.85V230.7h-0.85ZM149.91 167.2h0.85V229.7h-0.85ZM152.17 172.2h0.85V230.1h-0.85ZM154.42 167.9h0.85V229.4h-0.85ZM156.67 166.3h0.85V230.9h-0.85ZM158.93 160.3h0.85V229.7h-0.85ZM161.18 169.4h0.85V229.5h-0.85ZM163.43 166.4h0.85V230.9h-0.85ZM165.69 165.9h0.85V227.8h-0.85ZM167.94 169.8h0.85V229.3h-0.85ZM170.19 171.4h0.85V228.5h-0.85ZM172.45 154.5h0.85V230.8h-0.85ZM174.70 167.2h0.85V231.0h-0.85ZM176.95 175.0h0.85V230.5h-0.85ZM179.21 176.9h0.85V230.2h-0.85ZM181.46 167.1h0.85V229.2h-0.85ZM183.71 178.9h0.85V229.7h-0.85ZM185.97 153.4h0.85V230.6h-0.85ZM188.22 157.4h0.85V231.3h-0.85ZM190.47 158.0h0.85V230.7h-0.85ZM192.73 160.9h0.85V228.5h-0.85ZM194.98 173.1h0.85V231.1h-0.85ZM197.23 166.9h0.85V229.7h-0.85ZM199.49 150.2h0.85V229.5h-0.85ZM201.74 169.0h0.85V232.0h-0.85ZM203.99 157.0h0.85V230.0h-0.85ZM206.25 159.2h0.85V228.4h-0.85ZM208.50 166.9h0.85V232.6h-0.85ZM210.75 156.5h0.85V230.5h-0.85ZM213.01 165.9h0.85V230.2h-0.85ZM215.26 175.2h0.85V231.1h-0.85ZM217.51 177.2h0.85V229.4h-0.85ZM219.77 173.1h0.85V230.1h-0.85ZM222.02 172.9h0.85V231.9h-0.85ZM224.28 164.0h0.85V229.0h-0.85ZM226.53 158.9h0.85V229.2h-0.85ZM228.78 150.2h0.85V228.8h-0.85ZM231.04 135.4h0.85V228.2h-0.85ZM233.29 139.8h0.85V229.6h-0.85ZM235.54 157.4h0.85V229.9h-0.85ZM237.80 155.1h0.85V231.7h-0.85ZM240.05 148.5h0.85V229.3h-0.85ZM242.30 169.2h0.85V230.8h-0.85ZM244.56 161.1h0.85V230.6h-0.85ZM246.81 172.3h0.85V231.7h-0.85ZM249.06 174.3h0.85V231.3h-0.85ZM251.32 155.9h0.85V230.7h-0.85ZM253.57 163.9h0.85V228.4h-0.85ZM255.82 175.0h0.85V232.7h-0.85ZM258.08 181.8h0.85V231.9h-0.85ZM260.33 157.4h0.85V229.7h-0.85ZM262.58 176.0h0.85V228.2h-0.85ZM264.84 171.9h0.85V229.3h-0.85ZM267.09 166.0h0.85V232.5h-0.85ZM269.34 170.0h0.85V233.3h-0.85ZM271.60 174.6h0.85V229.6h-0.85ZM273.85 155.1h0.85V231.0h-0.85ZM276.10 170.0h0.85V231.5h-0.85ZM278.36 151.3h0.85V228.8h-0.85ZM280.61 159.4h0.85V228.6h-0.85ZM282.86 160.3h0.85V229.8h-0.85ZM285.12 176.8h0.85V229.7h-0.85ZM287.37 173.1h0.85V229.5h-0.85ZM289.62 172.7h0.85V228.0h-0.85ZM291.88 163.5h0.85V229.3h-0.85ZM294.13 152.3h0.85V229.4h-0.85ZM296.38 154.9h0.85V229.3h-0.85ZM298.64 176.9h0.85V232.1h-0.85ZM300.89 170.2h0.85V228.4h-0.85ZM303.14 163.0h0.85V228.8h-0.85ZM305.40 167.9h0.85V229.4h-0.85ZM307.65 159.2h0.85V232.6h-0.85ZM309.90 166.7h0.85V230.9h-0.85ZM312.16 166.7h0.85V229.0h-0.85ZM314.41 161.7h0.85V232.4h-0.85ZM316.66 157.2h0.85V230.3h-0.85ZM318.92 167.6h0.85V228.7h-0.85ZM321.17 148.5h0.85V231.7h-0.85ZM323.42 164.0h0.85V228.0h-0.85ZM325.68 164.6h0.85V229.3h-0.85ZM327.93 156.0h0.85V230.2h-0.85ZM330.19 157.8h0.85V229.6h-0.85ZM332.44 160.1h0.85V229.2h-0.85ZM334.69 169.5h0.85V229.9h-0.85ZM336.95 178.9h0.85V228.6h-0.85ZM339.20 166.1h0.85V230.9h-0.85ZM341.45 172.2h0.85V230.6h-0.85ZM343.71 170.2h0.85V228.7h-0.85ZM345.96 180.9h0.85V230.0h-0.85ZM348.21 175.5h0.85V231.2h-0.85ZM350.47 164.2h0.85V228.8h-0.85ZM352.72 137.1h0.85V228.2h-0.85ZM354.97 165.2h0.85V230.6h-0.85ZM357.23 175.5h0.85V231.8h-0.85ZM359.48 161.1h0.85V230.2h-0.85ZM361.73 170.2h0.85V230.2h-0.85ZM363.99 162.9h0.85V230.4h-0.85ZM366.24 163.0h0.85V228.2h-0.85ZM368.49 160.1h0.85V231.4h-0.85ZM370.75 156.0h0.85V228.4h-0.85ZM373.00 151.1h0.85V231.7h-0.85ZM375.25 163.0h0.85V231.1h-0.85ZM377.51 154.5h0.85V229.2h-0.85ZM379.76 165.9h0.85V228.6h-0.85ZM382.01 171.4h0.85V228.9h-0.85ZM384.27 165.1h0.85V229.6h-0.85ZM386.52 167.9h0.85V229.9h-0.85ZM388.77 170.0h0.85V229.9h-0.85ZM391.03 163.2h0.85V229.3h-0.85ZM393.28 155.5h0.85V230.3h-0.85ZM395.53 150.2h0.85V229.7h-0.85ZM397.79 168.8h0.85V229.3h-0.85ZM400.04 156.0h0.85V230.0h-0.85ZM402.29 165.9h0.85V229.1h-0.85ZM404.55 169.3h0.85V229.3h-0.85ZM406.80 154.1h0.85V227.5h-0.85ZM409.05 166.0h0.85V229.6h-0.85ZM411.31 161.4h0.85V230.6h-0.85ZM413.56 170.9h0.85V230.5h-0.85ZM415.81 170.9h0.85V230.1h-0.85ZM418.07 175.1h0.85V228.9h-0.85ZM420.32 168.2h0.85V230.5h-0.85ZM422.57 180.1h0.85V229.6h-0.85ZM424.83 167.1h0.85V227.7h-0.85ZM427.08 184.7h0.85V233.3h-0.85ZM429.33 169.4h0.85V231.5h-0.85ZM431.59 170.9h0.85V229.7h-0.85ZM433.84 176.1h0.85V229.5h-0.85ZM436.09 176.8h0.85V229.7h-0.85ZM438.35 172.6h0.85V230.6h-0.85ZM440.60 178.3h0.85V229.2h-0.85ZM442.86 174.8h0.85V229.7h-0.85ZM445.11 174.0h0.85V230.7h-0.85ZM447.36 185.9h0.85V226.9h-0.85ZM449.62 171.4h0.85V229.6h-0.85ZM451.87 177.7h0.85V230.8h-0.85ZM454.12 183.0h0.85V230.2h-0.85ZM456.38 173.1h0.85V230.3h-0.85ZM458.63 160.9h0.85V230.1h-0.85ZM460.88 152.6h0.85V233.6h-0.85ZM463.14 176.9h0.85V230.7h-0.85ZM465.39 173.9h0.85V228.7h-0.85ZM467.64 163.9h0.85V231.6h-0.85ZM469.90 173.1h0.85V230.1h-0.85ZM472.15 169.0h0.85V228.8h-0.85ZM474.40 166.1h0.85V228.9h-0.85ZM476.66 169.0h0.85V228.1h-0.85ZM478.91 181.8h0.85V232.2h-0.85ZM481.16 166.9h0.85V230.5h-0.85ZM483.42 168.8h0.85V230.5h-0.85ZM485.67 169.0h0.85V229.2h-0.85ZM487.92 175.1h0.85V228.6h-0.85ZM490.18 164.2h0.85V233.5h-0.85ZM492.43 170.0h0.85V228.6h-0.85ZM494.68 164.0h0.85V231.9h-0.85ZM496.94 174.8h0.85V229.2h-0.85ZM499.19 160.9h0.85V232.0h-0.85ZM501.44 178.3h0.85V229.8h-0.85ZM503.70 183.5h0.85V228.5h-0.85ZM505.95 160.3h0.85V230.2h-0.85ZM508.20 164.0h0.85V229.8h-0.85ZM510.46 176.6h0.85V229.0h-0.85ZM512.71 168.8h0.85V229.9h-0.85ZM514.96 168.8h0.85V230.2h-0.85ZM517.22 151.1h0.85V228.1h-0.85ZM519.47 163.2h0.85V228.7h-0.85ZM521.72 176.0h0.85V230.4h-0.85ZM523.98 166.4h0.85V226.5h-0.85ZM526.23 175.4h0.85V231.5h-0.85ZM528.48 165.0h0.85V228.9h-0.85ZM530.74 145.6h0.85V230.4h-0.85ZM532.99 158.4h0.85V229.9h-0.85ZM535.24 167.1h0.85V229.1h-0.85ZM537.50 170.2h0.85V229.8h-0.85ZM539.75 163.5h0.85V229.2h-0.85ZM542.00 172.9h0.85V232.0h-0.85ZM544.26 158.9h0.85V232.0h-0.85ZM546.51 167.3h0.85V229.3h-0.85ZM548.76 160.9h0.85V231.3h-0.85ZM551.02 163.0h0.85V231.4h-0.85ZM553.27 146.1h0.85V231.9h-0.85ZM555.52 147.9h0.85V228.4h-0.85ZM557.78 161.1h0.85V229.1h-0.85ZM560.03 163.8h0.85V228.2h-0.85ZM562.29 167.3h0.85V231.3h-0.85ZM564.54 160.9h0.85V230.0h-0.85ZM566.79 163.9h0.85V231.5h-0.85ZM569.05 167.3h0.85V229.1h-0.85ZM571.30 158.0h0.85V228.0h-0.85ZM573.55 158.4h0.85V231.2h-0.85ZM575.81 160.0h0.85V228.0h-0.85ZM578.06 171.7h0.85V228.8h-0.85ZM580.31 147.9h0.85V230.3h-0.85ZM582.57 155.1h0.85V232.6h-0.85ZM584.82 150.2h0.85V228.2h-0.85ZM587.07 172.2h0.85V230.2h-0.85ZM589.33 152.2h0.85V230.8h-0.85ZM591.58 166.4h0.85V229.5h-0.85ZM593.83 168.8h0.85V229.5h-0.85ZM596.09 183.9h0.85V228.1h-0.85ZM598.34 154.0h0.85V231.4h-0.85ZM600.59 160.0h0.85V228.6h-0.85ZM602.85 158.2h0.85V228.1h-0.85ZM605.10 158.2h0.85V228.2h-0.85ZM607.35 173.4h0.85V230.3h-0.85ZM609.61 165.1h0.85V231.0h-0.85ZM611.86 169.0h0.85V228.7h-0.85ZM614.11 170.0h0.85V229.9h-0.85ZM616.37 171.4h0.85V229.9h-0.85ZM618.62 175.8h0.85V228.2h-0.85ZM620.87 167.9h0.85V230.4h-0.85ZM623.13 171.9h0.85V233.0h-0.85ZM625.38 173.9h0.85V230.5h-0.85ZM627.63 177.7h0.85V232.4h-0.85ZM629.89 171.4h0.85V229.0h-0.85ZM632.14 172.3h0.85V229.6h-0.85ZM634.39 167.6h0.85V230.8h-0.85ZM636.65 164.0h0.85V230.1h-0.85ZM638.90 168.8h0.85V229.0h-0.85ZM641.15 176.9h0.85V229.9h-0.85ZM643.41 169.0h0.85V228.3h-0.85ZM645.66 170.0h0.85V230.1h-0.85ZM647.91 167.9h0.85V228.7h-0.85ZM650.17 173.1h0.85V228.1h-0.85ZM652.42 156.3h0.85V228.0h-0.85ZM654.67 156.3h0.85V230.9h-0.85ZM656.93 165.0h0.85V228.9h-0.85ZM659.18 163.0h0.85V232.5h-0.85ZM661.43 157.2h0.85V231.4h-0.85ZM663.69 167.9h0.85V232.6h-0.85ZM665.94 157.2h0.85V228.7h-0.85ZM668.20 174.8h0.85V231.6h-0.85ZM670.45 170.4h0.85V230.1h-0.85ZM672.70 163.8h0.85V230.3h-0.85ZM674.96 165.9h0.85V230.1h-0.85ZM677.21 165.0h0.85V230.8h-0.85ZM679.46 168.8h0.85V229.7h-0.85ZM681.72 160.9h0.85V227.7h-0.85ZM683.97 163.0h0.85V230.0h-0.85ZM686.22 170.0h0.85V229.4h-0.85ZM688.48 164.0h0.85V228.8h-0.85ZM690.73 171.0h0.85V230.3h-0.85ZM692.98 165.0h0.85V231.7h-0.85ZM695.24 170.0h0.85V230.8h-0.85ZM697.49 174.8h0.85V228.7h-0.85ZM699.74 156.5h0.85V232.2h-0.85ZM702.00 160.3h0.85V230.8h-0.85ZM704.25 141.2h0.85V228.8h-0.85ZM706.50 160.0h0.85V229.0h-0.85ZM708.76 160.0h0.85V230.0h-0.85ZM711.01 173.4h0.85V229.0h-0.85ZM713.26 154.3h0.85V229.8h-0.85ZM715.52 173.9h0.85V231.6h-0.85ZM717.77 173.9h0.85V232.1h-0.85ZM720.02 166.9h0.85V230.9h-0.85ZM722.28 169.3h0.85V228.9h-0.85ZM724.53 170.0h0.85V230.8h-0.85ZM726.78 176.0h0.85V231.2h-0.85ZM729.04 161.7h0.85V231.0h-0.85ZM731.29 170.0h0.85V232.0h-0.85ZM733.54 174.3h0.85V230.2h-0.85ZM735.80 177.7h0.85V231.6h-0.85ZM738.05 170.0h0.85V229.6h-0.85ZM740.30 158.4h0.85V233.1h-0.85ZM742.56 158.9h0.85V229.6h-0.85ZM744.81 160.9h0.85V230.9h-0.85ZM747.06 174.8h0.85V232.5h-0.85ZM749.32 165.9h0.85V229.1h-0.85ZM751.57 166.9h0.85V230.4h-0.85ZM753.82 160.0h0.85V232.9h-0.85ZM756.08 158.8h0.85V231.2h-0.85ZM758.33 164.4h0.85V229.7h-0.85ZM760.58 171.0h0.85V230.6h-0.85ZM762.84 175.4h0.85V229.0h-0.85ZM765.09 162.7h0.85V229.1h-0.85ZM767.34 176.0h0.85V229.2h-0.85ZM769.60 171.9h0.85V229.6h-0.85ZM771.85 165.9h0.85V228.3h-0.85ZM774.10 163.0h0.85V229.2h-0.85ZM776.36 171.9h0.85V229.5h-0.85ZM778.61 153.4h0.85V232.7h-0.85ZM780.87 173.9h0.85V228.9h-0.85ZM783.12 166.1h0.85V228.4h-0.85ZM785.37 173.9h0.85V230.4h-0.85ZM787.63 165.0h0.85V230.7h-0.85ZM789.88 171.0h0.85V227.5h-0.85ZM792.13 179.8h0.85V232.3h-0.85ZM794.39 180.6h0.85V229.4h-0.85ZM796.64 176.0h0.85V226.9h-0.85ZM798.89 146.4h0.85V231.2h-0.85ZM801.15 156.3h0.85V229.2h-0.85ZM803.40 165.0h0.85V227.6h-0.85ZM805.65 171.0h0.85V230.2h-0.85ZM807.91 167.6h0.85V229.3h-0.85ZM810.16 174.8h0.85V228.9h-0.85ZM812.41 172.5h0.85V231.2h-0.85ZM814.67 165.0h0.85V230.2h-0.85ZM816.92 172.3h0.85V229.7h-0.85ZM819.17 166.1h0.85V229.0h-0.85ZM821.43 167.9h0.85V230.1h-0.85ZM823.68 171.9h0.85V230.3h-0.85ZM825.93 160.3h0.85V231.4h-0.85ZM828.19 171.9h0.85V230.5h-0.85ZM830.44 177.7h0.85V228.9h-0.85ZM832.69 164.0h0.85V229.9h-0.85ZM834.95 167.6h0.85V231.1h-0.85ZM837.20 173.9h0.85V231.1h-0.85ZM839.45 170.5h0.85V226.6h-0.85ZM841.71 169.0h0.85V228.6h-0.85ZM843.96 174.8h0.85V229.2h-0.85ZM846.21 167.9h0.85V233.4h-0.85ZM848.47 168.8h0.85V229.2h-0.85ZM850.72 176.8h0.85V229.4h-0.85ZM852.97 163.8h0.85V227.9h-0.85ZM855.23 168.8h0.85V229.5h-0.85ZM857.48 172.7h0.85V230.1h-0.85ZM859.73 174.8h0.85V229.4h-0.85ZM861.99 154.3h0.85V232.6h-0.85ZM864.24 173.9h0.85V228.7h-0.85ZM866.49 158.2h0.85V229.6h-0.85ZM868.75 158.6h0.85V231.0h-0.85ZM871.00 182.4h0.85V228.3h-0.85ZM873.25 178.3h0.85V227.7h-0.85ZM875.51 160.9h0.85V231.9h-0.85ZM877.76 142.1h0.85V230.9h-0.85ZM880.01 168.1h0.85V229.7h-0.85ZM882.27 166.1h0.85V229.8h-0.85ZM884.52 166.1h0.85V230.6h-0.85ZM886.77 144.4h0.85V231.3h-0.85ZM889.03 157.2h0.85V227.3h-0.85ZM891.28 163.5h0.85V228.7h-0.85ZM893.54 150.7h0.85V231.6h-0.85ZM895.79 166.1h0.85V231.8h-0.85ZM898.04 166.9h0.85V227.9h-0.85ZM900.30 164.0h0.85V228.8h-0.85ZM902.55 161.1h0.85V227.7h-0.85ZM904.80 165.0h0.85V229.0h-0.85ZM907.06 178.9h0.85V231.2h-0.85ZM909.31 151.9h0.85V229.7h-0.85ZM911.56 162.1h0.85V232.8h-0.85ZM913.82 168.1h0.85V231.0h-0.85ZM916.07 145.6h0.85V230.1h-0.85ZM918.32 163.2h0.85V229.4h-0.85ZM920.58 166.9h0.85V231.0h-0.85ZM922.83 165.0h0.85V230.2h-0.85ZM925.08 172.9h0.85V229.5h-0.85ZM927.34 157.2h0.85V229.6h-0.85ZM929.59 158.2h0.85V229.2h-0.85ZM931.84 169.0h0.85V229.8h-0.85ZM934.10 170.0h0.85V230.5h-0.85ZM936.35 149.3h0.85V229.0h-0.85ZM938.60 167.9h0.85V230.0h-0.85ZM940.86 165.2h0.85V231.1h-0.85ZM943.11 169.0h0.85V230.9h-0.85ZM945.36 158.0h0.85V230.0h-0.85ZM947.62 173.1h0.85V230.2h-0.85ZM949.87 170.0h0.85V229.8h-0.85ZM952.12 163.5h0.85V230.0h-0.85ZM954.38 173.1h0.85V229.8h-0.85ZM956.63 160.9h0.85V230.2h-0.85ZM958.88 163.2h0.85V231.7h-0.85ZM961.14 168.8h0.85V229.5h-0.85ZM963.39 172.9h0.85V228.7h-0.85ZM965.64 171.0h0.85V229.5h-0.85ZM967.90 163.2h0.85V230.3h-0.85ZM970.15 165.6h0.85V229.5h-0.85ZM972.40 155.1h0.85V231.3h-0.85ZM974.66 157.2h0.85V232.5h-0.85ZM976.91 152.2h0.85V230.0h-0.85ZM979.16 173.1h0.85V231.2h-0.85ZM981.42 173.9h0.85V229.1h-0.85ZM983.67 177.2h0.85V231.4h-0.85ZM985.92 167.9h0.85V233.4h-0.85ZM988.18 164.4h0.85V231.4h-0.85ZM990.43 168.8h0.85V228.0h-0.85ZM992.68 183.0h0.85V230.5h-0.85ZM994.94 160.9h0.85V231.8h-0.85ZM997.19 168.2h0.85V231.0h-0.85ZM999.44 171.9h0.85V229.4h-0.85ZM1001.70 168.2h0.85V229.4h-0.85ZM1003.95 158.2h0.85V229.8h-0.85ZM1006.21 183.9h0.85V228.1h-0.85ZM1008.46 160.9h0.85V229.1h-0.85ZM1010.71 169.0h0.85V230.1h-0.85ZM1012.97 170.0h0.85V229.3h-0.85ZM1015.22 163.5h0.85V227.9h-0.85ZM1017.47 170.2h0.85V228.8h-0.85ZM1019.73 178.9h0.85V228.7h-0.85ZM1021.98 167.9h0.85V231.4h-0.85ZM1024.23 166.9h0.85V230.2h-0.85ZM1026.49 160.9h0.85V229.1h-0.85ZM1028.74 163.5h0.85V230.4h-0.85ZM1030.99 168.8h0.85V228.7h-0.85ZM1033.25 178.0h0.85V229.3h-0.85ZM1035.50 162.1h0.85V228.9h-0.85ZM1037.75 166.1h0.85V230.3h-0.85ZM1040.01 170.0h0.85V226.8h-0.85ZM1042.26 172.9h0.85V228.5h-0.85ZM1044.51 158.0h0.85V230.3h-0.85ZM1046.77 166.9h0.85V229.9h-0.85ZM1049.02 174.8h0.85V226.7h-0.85ZM1051.27 163.5h0.85V230.5h-0.85ZM1053.53 162.7h0.85V228.9h-0.85ZM1055.78 162.4h0.85V228.8h-0.85ZM1058.03 170.2h0.85V230.0h-0.85ZM1060.29 177.7h0.85V231.6h-0.85ZM1062.54 174.8h0.85V229.8h-0.85ZM1064.79 180.6h0.85V229.6h-0.85ZM1067.05 168.8h0.85V228.6h-0.85ZM1069.30 168.2h0.85V229.0h-0.85ZM1071.55 165.0h0.85V230.0h-0.85ZM1073.81 163.2h0.85V228.9h-0.85ZM1076.06 171.9h0.85V229.4h-0.85ZM1078.31 166.1h0.85V229.8h-0.85ZM1080.57 166.9h0.85V230.0h-0.85ZM1082.82 158.9h0.85V230.4h-0.85ZM1085.07 168.8h0.85V229.2h-0.85ZM1087.33 163.2h0.85V231.4h-0.85ZM1089.58 165.0h0.85V230.9h-0.85ZM1091.83 157.4h0.85V230.0h-0.85ZM1094.09 171.9h0.85V231.9h-0.85ZM1096.34 179.5h0.85V230.6h-0.85ZM1098.59 152.2h0.85V232.6h-0.85ZM1100.85 162.1h0.85V230.9h-0.85ZM1103.10 142.1h0.85V229.3h-0.85ZM1105.35 167.3h0.85V229.3h-0.85ZM1107.61 168.8h0.85V230.1h-0.85ZM1109.86 160.9h0.85V230.3h-0.85ZM1112.11 176.8h0.85V231.9h-0.85ZM1114.37 169.0h0.85V227.7h-0.85ZM1116.62 168.2h0.85V229.4h-0.85ZM1118.88 176.8h0.85V228.6h-0.85ZM1121.13 162.4h0.85V231.2h-0.85ZM1123.38 170.4h0.85V230.3h-0.85ZM1125.64 165.0h0.85V232.4h-0.85ZM1127.89 166.9h0.85V229.0h-0.85ZM1130.14 167.9h0.85V228.8h-0.85ZM1132.40 166.1h0.85V232.5h-0.85ZM1134.65 171.0h0.85V230.1h-0.85ZM1136.90 158.0h0.85V229.2h-0.85ZM1139.16 172.5h0.85V232.3h-0.85ZM1141.41 174.8h0.85V232.4h-0.85ZM1143.66 169.0h0.85V231.4h-0.85ZM1145.92 149.9h0.85V230.9h-0.85ZM1148.17 171.0h0.85V231.9h-0.85ZM1150.42 176.9h0.85V230.0h-0.85ZM1152.68 167.3h0.85V229.7h-0.85ZM1154.93 176.8h0.85V229.2h-0.85ZM1157.18 167.9h0.85V229.1h-0.85ZM1159.44 176.0h0.85V228.1h-0.85ZM1161.69 169.0h0.85V228.5h-0.85ZM1163.94 163.2h0.85V231.7h-0.85ZM1166.20 161.1h0.85V230.7h-0.85ZM1168.45 160.9h0.85V231.4h-0.85ZM1170.70 145.3h0.85V231.4h-0.85ZM1172.96 173.1h0.85V230.2h-0.85ZM1175.21 164.4h0.85V230.0h-0.85ZM1177.46 160.9h0.85V229.4h-0.85ZM1179.72 152.6h0.85V232.1h-0.85ZM1181.97 167.9h0.85V231.6h-0.85ZM1184.22 177.2h0.85V230.1h-0.85ZM1186.48 161.8h0.85V230.3h-0.85ZM1188.73 182.4h0.85V230.4h-0.85ZM1190.98 165.6h0.85V230.1h-0.85ZM1193.24 163.2h0.85V231.0h-0.85ZM1195.49 168.8h0.85V229.1h-0.85ZM1197.74 173.9h0.85V229.6h-0.85ZM1200.00 176.8h0.85V230.2h-0.85ZM1202.25 163.0h0.85V230.9h-0.85ZM1204.50 161.5h0.85V230.3h-0.85ZM1206.76 170.0h0.85V233.6h-0.85ZM1209.01 171.0h0.85V231.3h-0.85ZM1211.26 178.0h0.85V230.0h-0.85ZM1213.52 167.9h0.85V232.0h-0.85ZM1215.77 157.8h0.85V229.8h-0.85ZM1218.02 160.3h0.85V229.9h-0.85ZM1220.28 176.9h0.85V231.8h-0.85ZM1222.53 163.2h0.85V230.4h-0.85ZM1224.78 173.4h0.85V230.5h-0.85ZM1227.04 169.0h0.85V229.5h-0.85ZM1229.29 160.9h0.85V229.3h-0.85ZM1231.54 161.1h0.85V230.1h-0.85ZM1233.80 161.1h0.85V231.1h-0.85ZM1236.05 166.9h0.85V230.2h-0.85ZM1238.31 171.0h0.85V230.1h-0.85ZM1240.56 166.1h0.85V229.1h-0.85ZM1242.81 171.0h0.85V229.7h-0.85ZM1245.07 144.1h0.85V231.0h-0.85ZM1247.32 141.2h0.85V231.8h-0.85ZM1249.57 145.3h0.85V230.5h-0.85ZM1251.83 147.2h0.85V231.0h-0.85ZM1254.08 178.0h0.85V231.5h-0.85ZM1256.33 143.3h0.85V230.2h-0.85ZM1258.59 160.1h0.85V230.7h-0.85ZM1260.84 173.9h0.85V229.9h-0.85ZM1263.09 185.3h0.85V229.4h-0.85ZM1265.35 170.2h0.85V230.6h-0.85ZM1267.60 151.4h0.85V227.1h-0.85ZM1269.85 144.1h0.85V230.5h-0.85ZM1272.11 160.9h0.85V228.6h-0.85ZM1274.36 168.2h0.85V229.9h-0.85ZM1276.61 158.6h0.85V228.6h-0.85ZM1278.87 152.2h0.85V233.1h-0.85ZM1281.12 169.4h0.85V231.0h-0.85ZM1283.37 160.0h0.85V229.7h-0.85ZM1285.63 174.3h0.85V229.3h-0.85ZM1287.88 167.1h0.85V227.0h-0.85ZM1290.13 160.3h0.85V229.6h-0.85ZM1292.39 151.1h0.85V228.4h-0.85ZM1294.64 149.6h0.85V229.1h-0.85ZM1296.89 163.5h0.85V228.8h-0.85ZM1299.15 173.9h0.85V229.4h-0.85ZM1301.40 157.2h0.85V230.2h-0.85ZM1303.65 165.2h0.85V229.4h-0.85ZM1305.91 162.4h0.85V231.4h-0.85ZM1308.16 163.8h0.85V228.5h-0.85ZM1310.41 143.3h0.85V231.4h-0.85ZM1312.67 156.0h0.85V229.7h-0.85ZM1314.92 160.9h0.85V227.3h-0.85ZM1317.17 154.9h0.85V230.3h-0.85ZM1319.43 151.4h0.85V230.0h-0.85ZM1321.68 155.4h0.85V228.6h-0.85ZM1323.93 166.1h0.85V230.0h-0.85ZM1326.19 164.7h0.85V231.1h-0.85ZM1328.44 167.1h0.85V229.7h-0.85ZM1330.69 176.9h0.85V229.3h-0.85ZM1332.95 172.9h0.85V229.1h-0.85ZM1335.20 163.0h0.85V231.0h-0.85ZM1337.45 165.3h0.85V227.8h-0.85ZM1339.71 158.6h0.85V227.9h-0.85ZM1341.96 126.7h0.85V230.0h-0.85ZM1344.21 174.0h0.85V229.7h-0.85ZM1346.47 178.3h0.85V230.6h-0.85ZM1348.72 167.9h0.85V228.2h-0.85ZM1350.98 158.4h0.85V231.0h-0.85ZM1353.23 163.8h0.85V229.2h-0.85ZM1355.48 160.1h0.85V230.7h-0.85ZM1357.74 159.2h0.85V230.9h-0.85ZM1359.99 153.1h0.85V229.1h-0.85ZM1362.24 159.5h0.85V228.3h-0.85ZM1364.50 165.9h0.85V230.1h-0.85ZM1366.75 163.0h0.85V230.9h-0.85ZM1369.00 156.3h0.85V229.0h-0.85ZM1371.26 163.0h0.85V230.1h-0.85ZM1373.51 158.2h0.85V229.6h-0.85ZM1375.76 162.3h0.85V228.1h-0.85ZM1378.02 160.3h0.85V228.6h-0.85ZM1380.27 172.3h0.85V230.7h-0.85ZM1382.52 166.1h0.85V227.1h-0.85ZM1384.78 157.1h0.85V230.0h-0.85ZM1387.03 157.1h0.85V229.0h-0.85ZM1389.28 162.0h0.85V230.9h-0.85ZM1391.54 170.9h0.85V230.1h-0.85ZM1393.79 157.4h0.85V232.3h-0.85ZM1396.04 165.3h0.85V227.7h-0.85ZM1398.30 164.1h0.85V228.3h-0.85ZM1400.55 160.1h0.85V231.6h-0.85ZM1402.80 165.1h0.85V232.0h-0.85ZM1405.06 151.3h0.85V232.1h-0.85ZM1407.31 152.7h0.85V228.5h-0.85ZM1409.56 157.1h0.85V230.6h-0.85ZM1411.82 152.3h0.85V230.1h-0.85ZM1414.07 162.4h0.85V230.5h-0.85ZM1416.32 160.4h0.85V230.2h-0.85ZM1418.58 159.2h0.85V231.4h-0.85ZM1420.83 163.9h0.85V230.0h-0.85ZM1423.08 159.2h0.85V231.9h-0.85ZM1425.34 151.6h0.85V230.1h-0.85ZM1427.59 172.3h0.85V229.6h-0.85ZM1429.84 155.5h0.85V229.4h-0.85ZM1432.10 161.0h0.85V230.3h-0.85ZM1434.35 159.2h0.85V231.2h-0.85ZM1436.60 168.2h0.85V229.8h-0.85ZM1438.86 176.9h0.85V230.7h-0.85ZM1441.11 173.4h0.85V228.0h-0.85ZM1443.36 161.6h0.85V229.1h-0.85ZM1445.62 172.0h0.85V230.2h-0.85ZM1447.87 156.0h0.85V230.7h-0.85ZM1450.12 166.1h0.85V231.0h-0.85ZM1452.38 143.4h0.85V231.3h-0.85ZM1454.63 148.1h0.85V230.5h-0.85ZM1456.88 170.2h0.85V229.7h-0.85ZM1459.14 155.5h0.85V229.4h-0.85ZM1461.39 144.4h0.85V229.3h-0.85ZM1463.65 157.7h0.85V227.3h-0.85ZM1465.90 167.4h0.85V231.0h-0.85ZM1468.15 168.5h0.85V230.0h-0.85ZM1470.41 158.3h0.85V226.4h-0.85ZM1472.66 165.3h0.85V232.5h-0.85ZM1474.91 167.4h0.85V230.7h-0.85ZM1477.17 152.5h0.85V229.8h-0.85ZM1479.42 163.0h0.85V229.8h-0.85ZM1481.67 164.1h0.85V229.5h-0.85ZM1483.93 168.5h0.85V230.4h-0.85ZM1486.18 164.1h0.85V229.6h-0.85ZM1488.43 156.3h0.85V230.0h-0.85ZM1490.69 160.1h0.85V226.2h-0.85ZM1492.94 165.1h0.85V229.7h-0.85ZM1495.19 165.3h0.85V228.4h-0.85ZM1497.45 156.3h0.85V227.2h-0.85ZM1499.70 163.5h0.85V228.5h-0.85ZM1501.95 166.8h0.85V228.6h-0.85ZM1504.21 169.9h0.85V226.4h-0.85ZM1506.46 161.6h0.85V228.1h-0.85ZM1508.71 161.2h0.85V226.4h-0.85ZM1510.97 172.0h0.85V223.2h-0.85ZM1513.22 172.0h0.85V223.7h-0.85ZM1515.47 169.0h0.85V223.5h-0.85ZM1517.73 157.7h0.85V224.3h-0.85ZM1519.98 170.2h0.85V225.9h-0.85ZM1522.23 164.1h0.85V224.2h-0.85ZM1524.49 142.3h0.85V223.5h-0.85ZM1526.74 167.0h0.85V224.8h-0.85ZM1528.99 172.0h0.85V224.3h-0.85ZM1531.25 155.2h0.85V223.2h-0.85ZM1533.50 167.0h0.85V225.3h-0.85ZM1535.75 174.6h0.85V223.3h-0.85ZM1538.01 179.0h0.85V221.7h-0.85ZM1540.26 167.6h0.85V224.8h-0.85ZM1542.51 159.1h0.85V223.9h-0.85ZM1544.77 163.2h0.85V224.3h-0.85ZM1547.02 168.5h0.85V222.1h-0.85ZM1549.27 156.0h0.85V223.7h-0.85ZM1551.53 160.4h0.85V223.0h-0.85ZM1553.78 149.2h0.85V225.0h-0.85ZM1556.03 159.1h0.85V224.1h-0.85ZM1558.29 148.2h0.85V224.1h-0.85ZM1560.54 155.4h0.85V226.4h-0.85ZM1562.79 166.4h0.85V222.3h-0.85ZM1565.05 159.1h0.85V223.0h-0.85ZM1567.30 152.5h0.85V226.4h-0.85ZM1569.55 162.4h0.85V223.2h-0.85ZM1571.81 163.5h0.85V224.3h-0.85ZM1574.06 159.7h0.85V223.5h-0.85ZM1576.32 156.0h0.85V223.7h-0.85ZM1578.57 155.4h0.85V226.1h-0.85ZM1580.82 158.5h0.85V224.4h-0.85ZM1583.08 167.6h0.85V222.2h-0.85ZM1585.33 171.7h0.85V224.9h-0.85ZM1587.58 176.0h0.85V225.4h-0.85ZM1589.84 160.6h0.85V229.0h-0.85ZM1592.09 160.6h0.85V228.8h-0.85ZM1594.34 155.1h0.85V226.8h-0.85ZM1596.60 146.5h0.85V225.0h-0.85ZM1598.85 147.3h0.85V226.7h-0.85ZM1601.10 147.3h0.85V226.9h-0.85ZM1603.36 154.6h0.85V224.3h-0.85ZM1605.61 163.9h0.85V227.9h-0.85ZM1607.86 141.1h0.85V228.1h-0.85ZM1610.12 155.4h0.85V229.4h-0.85ZM1612.37 151.1h0.85V229.3h-0.85ZM1614.62 168.2h0.85V231.4h-0.85ZM1616.88 160.3h0.85V231.6h-0.85ZM1619.13 166.1h0.85V229.7h-0.85ZM1621.38 170.2h0.85V229.7h-0.85ZM1623.64 151.3h0.85V231.7h-0.85ZM1625.89 165.5h0.85V230.3h-0.85ZM1628.14 168.2h0.85V230.7h-0.85ZM1630.40 166.4h0.85V228.7h-0.85ZM1632.65 165.3h0.85V229.4h-0.85ZM1634.90 157.7h0.85V229.4h-0.85ZM1637.16 148.7h0.85V229.7h-0.85ZM1639.41 159.5h0.85V227.9h-0.85ZM1641.66 163.5h0.85V227.5h-0.85ZM1643.92 154.0h0.85V229.7h-0.85ZM1646.17 168.8h0.85V228.2h-0.85ZM1648.42 166.4h0.85V230.3h-0.85ZM1650.68 164.1h0.85V229.2h-0.85ZM1652.93 170.9h0.85V228.3h-0.85ZM1655.18 168.2h0.85V227.3h-0.85ZM1657.44 154.2h0.85V229.8h-0.85ZM1659.69 151.9h0.85V229.4h-0.85ZM1661.94 151.3h0.85V229.0h-0.85ZM1664.20 160.1h0.85V231.2h-0.85ZM1666.45 160.1h0.85V229.3h-0.85ZM1668.70 166.4h0.85V230.1h-0.85ZM1670.96 166.8h0.85V228.8h-0.85ZM1673.21 157.4h0.85V230.7h-0.85ZM1675.46 169.0h0.85V231.8h-0.85ZM1677.72 169.0h0.85V229.2h-0.85ZM1679.97 156.9h0.85V228.9h-0.85ZM1682.22 161.0h0.85V230.0h-0.85ZM1684.48 158.3h0.85V228.1h-0.85ZM1686.73 156.9h0.85V229.6h-0.85ZM1688.99 158.0h0.85V230.1h-0.85ZM1691.24 161.0h0.85V228.7h-0.85ZM1693.49 160.1h0.85V231.3h-0.85ZM1695.75 151.3h0.85V230.1h-0.85ZM1698.00 171.1h0.85V229.3h-0.85ZM1700.25 155.4h0.85V228.2h-0.85ZM1702.51 172.8h0.85V229.5h-0.85ZM1704.76 165.9h0.85V228.9h-0.85ZM1707.01 160.4h0.85V230.1h-0.85ZM1709.27 150.5h0.85V228.9h-0.85ZM1711.52 147.0h0.85V227.1h-0.85ZM1713.77 159.1h0.85V230.2h-0.85ZM1716.03 172.8h0.85V226.2h-0.85ZM1718.28 151.6h0.85V230.1h-0.85ZM1720.53 164.1h0.85V226.2h-0.85ZM1722.79 158.3h0.85V226.0h-0.85ZM1725.04 155.2h0.85V224.9h-0.85ZM1727.29 155.2h0.85V227.8h-0.85ZM1729.55 152.3h0.85V228.9h-0.85ZM1731.80 161.6h0.85V225.4h-0.85ZM1734.05 158.5h0.85V225.2h-0.85ZM1736.31 159.1h0.85V225.4h-0.85ZM1738.56 167.8h0.85V222.8h-0.85ZM1740.81 156.0h0.85V229.0h-0.85ZM1743.07 148.4h0.85V228.9h-0.85ZM1745.32 148.4h0.85V228.1h-0.85ZM1747.57 131.6h0.85V228.8h-0.85ZM1749.83 156.0h0.85V227.1h-0.85ZM1752.08 155.2h0.85V230.9h-0.85ZM1754.33 151.1h0.85V229.8h-0.85ZM1756.59 140.3h0.85V233.7h-0.85ZM1758.84 168.0h0.85V228.2h-0.85ZM1761.09 160.1h0.85V229.8h-0.85ZM1763.35 141.8h0.85V228.1h-0.85ZM1765.60 158.5h0.85V226.5h-0.85ZM1767.85 146.5h0.85V229.3h-0.85ZM1770.11 142.3h0.85V229.6h-0.85ZM1772.36 152.3h0.85V229.9h-0.85ZM1774.61 128.3h0.85V230.4h-0.85ZM1776.87 144.4h0.85V230.1h-0.85ZM1779.12 152.3h0.85V228.5h-0.85ZM1781.37 169.9h0.85V229.2h-0.85ZM1783.63 152.3h0.85V229.2h-0.85ZM1785.88 179.0h0.85V229.5h-0.85ZM1788.13 161.2h0.85V228.1h-0.85ZM1790.39 160.6h0.85V228.6h-0.85ZM1792.64 148.4h0.85V229.5h-0.85ZM1794.89 143.4h0.85V228.4h-0.85ZM1797.15 158.1h0.85V229.5h-0.85ZM1799.40 153.3h0.85V230.8h-0.85ZM1801.66 169.1h0.85V227.4h-0.85ZM1803.91 169.1h0.85V228.7h-0.85ZM1806.16 179.8h0.85V230.5h-0.85ZM1808.42 159.5h0.85V227.9h-0.85ZM1810.67 174.9h0.85V226.3h-0.85ZM1812.92 169.0h0.85V228.7h-0.85ZM1815.18 153.1h0.85V224.6h-0.85ZM1817.43 154.8h0.85V226.3h-0.85ZM1819.68 137.4h0.85V225.6h-0.85ZM1821.94 158.5h0.85V226.4h-0.85ZM1824.19 158.9h0.85V226.9h-0.85ZM1826.44 156.2h0.85V228.7h-0.85ZM1828.70 160.1h0.85V225.4h-0.85ZM1830.95 164.1h0.85V226.7h-0.85ZM1833.20 167.0h0.85V227.1h-0.85ZM1835.46 165.9h0.85V226.2h-0.85ZM1837.71 163.5h0.85V226.6h-0.85ZM1839.96 164.1h0.85V225.8h-0.85ZM1842.22 168.5h0.85V227.2h-0.85ZM1844.47 166.1h0.85V226.7h-0.85ZM1846.72 157.1h0.85V229.5h-0.85ZM1848.98 130.6h0.85V227.2h-0.85ZM1851.23 144.7h0.85V225.8h-0.85ZM1853.48 154.6h0.85V225.0h-0.85ZM1855.74 159.1h0.85V229.7h-0.85ZM1857.99 147.5h0.85V229.4h-0.85ZM1860.24 161.0h0.85V227.2h-0.85ZM1862.50 167.0h0.85V229.7h-0.85ZM1864.75 174.6h0.85V228.3h-0.85ZM1867.00 159.1h0.85V227.1h-0.85ZM1869.26 154.2h0.85V229.2h-0.85ZM1871.51 168.2h0.85V227.7h-0.85ZM1873.76 175.7h0.85V230.2h-0.85ZM1876.02 175.7h0.85V229.0h-0.85ZM1878.27 162.4h0.85V229.4h-0.85ZM1880.52 163.0h0.85V229.1h-0.85ZM1882.78 146.1h0.85V227.8h-0.85ZM1885.03 165.1h0.85V226.2h-0.85ZM1887.28 160.1h0.85V230.1h-0.85ZM1889.54 170.5h0.85V230.0h-0.85ZM1891.79 163.0h0.85V228.6h-0.85ZM1894.04 154.2h0.85V230.6h-0.85ZM1896.30 167.0h0.85V228.6h-0.85ZM1898.55 163.2h0.85V228.5h-0.85ZM1900.80 166.1h0.85V229.6h-0.85ZM1903.06 162.7h0.85V228.6h-0.85ZM1905.31 150.2h0.85V231.3h-0.85ZM1907.56 158.3h0.85V228.3h-0.85ZM1909.82 168.0h0.85V231.3h-0.85ZM1912.07 159.1h0.85V230.2h-0.85ZM1914.33 168.5h0.85V230.0h-0.85ZM1916.58 172.3h0.85V229.8h-0.85ZM1918.83 170.2h0.85V228.2h-0.85ZM1921.09 175.5h0.85V229.2h-0.85ZM1923.34 174.0h0.85V229.8h-0.85ZM1925.59 169.0h0.85V228.6h-0.85ZM1927.85 158.5h0.85V227.2h-0.85ZM1930.10 175.2h0.85V229.3h-0.85ZM1932.35 188.0h0.85V228.8h-0.85ZM1934.61 160.1h0.85V227.7h-0.85ZM1936.86 174.0h0.85V228.9h-0.85ZM1939.11 160.4h0.85V230.9h-0.85ZM1941.37 174.9h0.85V226.1h-0.85ZM1943.62 167.8h0.85V226.4h-0.85ZM1945.87 161.2h0.85V231.8h-0.85ZM1948.13 166.1h0.85V229.3h-0.85ZM1950.38 157.1h0.85V228.7h-0.85ZM1952.63 164.1h0.85V228.0h-0.85ZM1954.89 160.1h0.85V228.4h-0.85ZM1957.14 167.8h0.85V229.6h-0.85ZM1959.39 164.1h0.85V230.6h-0.85ZM1961.65 176.6h0.85V229.1h-0.85ZM1963.90 170.9h0.85V227.9h-0.85ZM1966.15 161.0h0.85V230.7h-0.85ZM1968.41 165.1h0.85V230.6h-0.85ZM1970.66 165.3h0.85V229.3h-0.85ZM1972.91 148.4h0.85V231.8h-0.85ZM1975.17 152.8h0.85V229.6h-0.85ZM1977.42 148.2h0.85V229.8h-0.85ZM1979.67 157.4h0.85V228.7h-0.85ZM1981.93 161.0h0.85V230.2h-0.85ZM1984.18 165.3h0.85V230.4h-0.85ZM1986.43 167.0h0.85V229.8h-0.85ZM1988.69 152.5h0.85V229.3h-0.85ZM1990.94 150.4h0.85V230.1h-0.85ZM1993.19 155.2h0.85V229.3h-0.85ZM1995.45 142.6h0.85V228.3h-0.85ZM1997.70 151.3h0.85V227.7h-0.85ZM1999.95 169.0h0.85V227.1h-0.85ZM2002.21 167.0h0.85V230.3h-0.85ZM2004.46 156.2h0.85V229.8h-0.85ZM2006.71 168.8h0.85V232.5h-0.85ZM2008.97 165.5h0.85V226.8h-0.85ZM2011.22 160.1h0.85V230.2h-0.85ZM2013.47 149.4h0.85V229.3h-0.85ZM2015.73 153.1h0.85V228.6h-0.85ZM2017.98 136.2h0.85V231.0h-0.85ZM2020.23 162.1h0.85V228.7h-0.85ZM2022.49 169.0h0.85V229.3h-0.85ZM2024.74 167.3h0.85V231.6h-0.85ZM2027.00 156.8h0.85V228.9h-0.85ZM2029.25 150.2h0.85V227.7h-0.85ZM2031.50 160.1h0.85V231.7h-0.85ZM2033.76 163.0h0.85V228.2h-0.85ZM2036.01 151.9h0.85V229.0h-0.85ZM2038.26 161.8h0.85V228.7h-0.85ZM2040.52 163.0h0.85V228.7h-0.85ZM2042.77 167.3h0.85V227.6h-0.85ZM2045.02 156.2h0.85V229.6h-0.85ZM2047.28 158.9h0.85V228.2h-0.85ZM2049.53 173.1h0.85V229.8h-0.85ZM2051.78 172.3h0.85V228.3h-0.85ZM2054.04 172.8h0.85V230.3h-0.85ZM2056.29 167.0h0.85V229.4h-0.85ZM2058.54 156.2h0.85V227.0h-0.85ZM2060.80 148.7h0.85V228.7h-0.85ZM2063.05 175.5h0.85V229.5h-0.85ZM2065.30 172.5h0.85V230.7h-0.85ZM2067.56 171.9h0.85V230.3h-0.85ZM2069.81 171.7h0.85V229.0h-0.85ZM2072.06 173.4h0.85V228.1h-0.85ZM2074.32 167.6h0.85V228.7h-0.85ZM2076.57 171.1h0.85V228.6h-0.85ZM2078.82 172.3h0.85V229.3h-0.85ZM2081.08 167.6h0.85V227.5h-0.85ZM2083.33 175.2h0.85V229.8h-0.85ZM2085.58 152.8h0.85V230.0h-0.85ZM2087.84 163.0h0.85V228.1h-0.85ZM2090.09 176.0h0.85V229.2h-0.85ZM2092.34 165.3h0.85V229.6h-0.85ZM2094.60 160.1h0.85V230.0h-0.85ZM2096.85 170.2h0.85V229.6h-0.85ZM2099.10 152.3h0.85V228.5h-0.85ZM2101.36 159.1h0.85V228.8h-0.85ZM2103.61 167.6h0.85V230.8h-0.85ZM2105.86 167.8h0.85V228.7h-0.85ZM2108.12 171.1h0.85V229.0h-0.85ZM2110.37 168.2h0.85V230.6h-0.85ZM2112.62 167.6h0.85V228.3h-0.85ZM2114.88 165.5h0.85V229.6h-0.85ZM2117.13 161.2h0.85V229.7h-0.85ZM2119.38 161.2h0.85V228.3h-0.85ZM2121.64 176.0h0.85V227.6h-0.85ZM2123.89 158.5h0.85V230.2h-0.85ZM2126.14 162.1h0.85V228.7h-0.85ZM2128.40 161.4h0.85V230.4h-0.85ZM2130.65 157.7h0.85V226.3h-0.85Z" fill="#4680e6"/>
</g>
<defs><clipPath id="xc"><rect x="0" y="238" width="2140.4" height="22"/></clipPath></defs><g clip-path="url(#xc)">
<text x="142.51" y="253.9" font-size="12.5" fill="#ccccdc" textLength="48.04" lengthAdjust="spacingAndGlyphs">11:23:30</text>
<text x="209.96" y="253.9" font-size="12.5" fill="#ccccdc" textLength="47.96" lengthAdjust="spacingAndGlyphs">11:24:00</text>
<text x="277.35" y="253.9" font-size="12.5" fill="#ccccdc" textLength="48.12" lengthAdjust="spacingAndGlyphs">11:24:30</text>
<text x="345.34" y="253.9" font-size="12.5" fill="#ccccdc" textLength="47.84" lengthAdjust="spacingAndGlyphs">11:25:00</text>
<text x="412.92" y="253.9" font-size="12.5" fill="#ccccdc" textLength="48.01" lengthAdjust="spacingAndGlyphs">11:25:30</text>
<text x="480.51" y="253.9" font-size="12.5" fill="#ccccdc" textLength="48.04" lengthAdjust="spacingAndGlyphs">11:26:00</text>
<text x="547.96" y="253.9" font-size="12.5" fill="#ccccdc" textLength="47.96" lengthAdjust="spacingAndGlyphs">11:26:30</text>
<text x="615.35" y="253.9" font-size="12.5" fill="#ccccdc" textLength="48.12" lengthAdjust="spacingAndGlyphs">11:27:00</text>
<text x="683.34" y="253.9" font-size="12.5" fill="#ccccdc" textLength="47.84" lengthAdjust="spacingAndGlyphs">11:27:30</text>
<text x="750.92" y="253.9" font-size="12.5" fill="#ccccdc" textLength="48.01" lengthAdjust="spacingAndGlyphs">11:28:00</text>
<text x="818.51" y="253.9" font-size="12.5" fill="#ccccdc" textLength="48.04" lengthAdjust="spacingAndGlyphs">11:28:30</text>
<text x="885.96" y="253.9" font-size="12.5" fill="#ccccdc" textLength="47.96" lengthAdjust="spacingAndGlyphs">11:29:00</text>
<text x="953.35" y="253.9" font-size="12.5" fill="#ccccdc" textLength="48.12" lengthAdjust="spacingAndGlyphs">11:29:30</text>
<text x="1021.34" y="253.9" font-size="12.5" fill="#ccccdc" textLength="47.84" lengthAdjust="spacingAndGlyphs">11:30:00</text>
<text x="1088.92" y="253.9" font-size="12.5" fill="#ccccdc" textLength="48.01" lengthAdjust="spacingAndGlyphs">11:30:30</text>
<text x="1156.51" y="253.9" font-size="12.5" fill="#ccccdc" textLength="48.04" lengthAdjust="spacingAndGlyphs">11:31:00</text>
<text x="1223.96" y="253.9" font-size="12.5" fill="#ccccdc" textLength="47.96" lengthAdjust="spacingAndGlyphs">11:31:30</text>
<text x="1291.35" y="253.9" font-size="12.5" fill="#ccccdc" textLength="48.12" lengthAdjust="spacingAndGlyphs">11:32:00</text>
<text x="1359.34" y="253.9" font-size="12.5" fill="#ccccdc" textLength="47.84" lengthAdjust="spacingAndGlyphs">11:32:30</text>
<text x="1426.92" y="253.9" font-size="12.5" fill="#ccccdc" textLength="48.01" lengthAdjust="spacingAndGlyphs">11:33:00</text>
<text x="1494.51" y="253.9" font-size="12.5" fill="#ccccdc" textLength="48.04" lengthAdjust="spacingAndGlyphs">11:33:30</text>
<text x="1561.96" y="253.9" font-size="12.5" fill="#ccccdc" textLength="47.96" lengthAdjust="spacingAndGlyphs">11:34:00</text>
<text x="1629.35" y="253.9" font-size="12.5" fill="#ccccdc" textLength="48.12" lengthAdjust="spacingAndGlyphs">11:34:30</text>
<text x="1697.34" y="253.9" font-size="12.5" fill="#ccccdc" textLength="47.84" lengthAdjust="spacingAndGlyphs">11:35:00</text>
<text x="1764.92" y="253.9" font-size="12.5" fill="#ccccdc" textLength="48.01" lengthAdjust="spacingAndGlyphs">11:35:30</text>
<text x="1832.51" y="253.9" font-size="12.5" fill="#ccccdc" textLength="48.04" lengthAdjust="spacingAndGlyphs">11:36:00</text>
<text x="1899.96" y="253.9" font-size="12.5" fill="#ccccdc" textLength="47.96" lengthAdjust="spacingAndGlyphs">11:36:30</text>
<text x="1967.35" y="253.9" font-size="12.5" fill="#ccccdc" textLength="48.12" lengthAdjust="spacingAndGlyphs">11:37:00</text>
<text x="2035.34" y="253.9" font-size="12.5" fill="#ccccdc" textLength="47.84" lengthAdjust="spacingAndGlyphs">11:37:30</text>
<text x="2102.94" y="253.9" font-size="12.5" fill="#ccccdc" textLength="47.84" lengthAdjust="spacingAndGlyphs">11:38:00</text>
</g>
<rect x="2144" y="116.9" width="14" height="4.2" rx="2.1" fill="#d04448"/>
<rect x="2144" y="139.9" width="14" height="4.2" rx="2.1" fill="#808080"/>
<rect x="2144" y="162.8" width="14" height="4.2" rx="2.1" fill="#4a82dd"/>
<text x="2166.21" y="122.7" font-size="12.5" fill="#ccccdc" textLength="28.55" lengthAdjust="spacingAndGlyphs">deny</text>
<text x="2165.64" y="145.2" font-size="12.5" fill="#ccccdc" textLength="28.10" lengthAdjust="spacingAndGlyphs">drop</text>
<text x="2166.31" y="167.8" font-size="12.5" fill="#ccccdc" textLength="21.38" lengthAdjust="spacingAndGlyphs">end</text>
<rect x="59.5" y="305.5" width="2158" height="511" rx="5" fill="#181b1f" stroke="#2a2c31" stroke-width="1"/>
<path d="M118.2 420.35C620.85 420.35 620.85 420.35 1123.5 420.35" fill="none" stroke="rgb(57,134,206)" stroke-opacity="0.6" stroke-width="62.70"/>
<path d="M118.2 477.50C620.85 477.50 620.85 477.50 1123.5 477.50" fill="none" stroke="rgb(57,134,206)" stroke-opacity="0.6" stroke-width="51.60"/>
<path d="M118.2 518.80C620.85 518.80 620.85 518.80 1123.5 518.80" fill="none" stroke="rgb(57,134,206)" stroke-opacity="0.6" stroke-width="31.00"/>
<path d="M118.2 543.65C620.85 543.65 620.85 543.65 1123.5 543.65" fill="none" stroke="rgb(57,134,206)" stroke-opacity="0.6" stroke-width="18.70"/>
<path d="M118.2 559.40C620.85 559.40 620.85 559.40 1123.5 559.40" fill="none" stroke="rgb(57,134,206)" stroke-opacity="0.6" stroke-width="12.80"/>
<path d="M1153.5 420.35C1656.2 420.35 1656.2 420.35 2158.9 420.35" fill="none" stroke="rgb(57,134,206)" stroke-opacity="0.6" stroke-width="62.70"/>
<path d="M1153.5 477.50C1656.2 477.50 1656.2 507.30 2158.9 507.30" fill="none" stroke="rgb(57,134,206)" stroke-opacity="0.6" stroke-width="51.60"/>
<path d="M1153.5 612.60C1656.2 612.60 1656.2 689.80 2158.9 689.80" fill="none" stroke="rgb(196,127,46)" stroke-opacity="0.6" stroke-width="33.60"/>
<path d="M118.2 612.60C620.85 612.60 620.85 612.60 1123.5 612.60" fill="none" stroke="rgb(196,127,46)" stroke-opacity="0.6" stroke-width="33.60"/>
<path d="M1153.5 518.80C1656.2 518.80 1656.2 578.70 2158.9 578.70" fill="none" stroke="rgb(57,134,206)" stroke-opacity="0.6" stroke-width="31.00"/>
<path d="M1153.5 543.65C1656.2 543.65 1656.2 633.55 2158.9 633.55" fill="none" stroke="rgb(57,134,206)" stroke-opacity="0.6" stroke-width="18.70"/>
<path d="M1153.5 559.40C1656.2 559.40 1656.2 751.50 2158.9 751.50" fill="none" stroke="rgb(57,134,206)" stroke-opacity="0.6" stroke-width="12.80"/>
<path d="M118.2 632.30C620.85 632.30 620.85 668.50 1123.5 668.50" fill="none" stroke="rgb(196,127,46)" stroke-opacity="0.6" stroke-width="5.80"/>
<path d="M1153.5 668.50C1656.2 668.50 1656.2 709.50 2158.9 709.50" fill="none" stroke="rgb(196,127,46)" stroke-opacity="0.6" stroke-width="5.80"/>
<path d="M118.2 686.00C620.85 686.00 620.85 672.80 1123.5 672.80" fill="none" stroke="rgb(111,29,216)" stroke-opacity="0.6" stroke-width="2.80"/>
<path d="M1153.5 672.80C1656.2 672.80 1656.2 713.80 2158.9 713.80" fill="none" stroke="rgb(111,29,216)" stroke-opacity="0.6" stroke-width="2.80"/>
<rect x="88.2" y="389" width="30" height="176.80" rx="3.80" fill="#808080" stroke="#000" stroke-width="1.15"/>
<rect x="88.2" y="595.8" width="30" height="39.40" rx="3.80" fill="#808080" stroke="#000" stroke-width="1.15"/>
<rect x="88.2" y="684.6" width="30" height="2.80" rx="1.40" fill="#808080" stroke="#000" stroke-width="1.15"/>
<rect x="1123.5" y="389" width="30" height="176.80" rx="3.80" fill="#808080" stroke="#000" stroke-width="1.15"/>
<rect x="1123.5" y="595.8" width="30" height="33.60" rx="3.80" fill="#808080" stroke="#000" stroke-width="1.15"/>
<rect x="1123.5" y="665.6" width="30" height="8.60" rx="3.80" fill="#808080" stroke="#000" stroke-width="1.15"/>
<rect x="2158.9" y="389" width="30" height="62.70" rx="3.80" fill="#808080" stroke="#000" stroke-width="1.15"/>
<rect x="2158.9" y="481.5" width="30" height="51.60" rx="3.80" fill="#808080" stroke="#000" stroke-width="1.15"/>
<rect x="2158.9" y="563.2" width="30" height="31.00" rx="3.80" fill="#808080" stroke="#000" stroke-width="1.15"/>
<rect x="2158.9" y="624.2" width="30" height="18.70" rx="3.80" fill="#808080" stroke="#000" stroke-width="1.15"/>
<rect x="2158.9" y="673.0" width="30" height="42.20" rx="3.80" fill="#808080" stroke="#000" stroke-width="1.15"/>
<rect x="2158.9" y="745.1" width="30" height="12.80" rx="3.80" fill="#808080" stroke="#000" stroke-width="1.15"/>
<text x="87.02" y="351.6" font-size="19" fill="#ccccdc" textLength="241.19" lengthAdjust="spacingAndGlyphs">panos.threat/content_type</text>
<text x="1079.28" y="352" font-size="19" fill="#ccccdc" textLength="118.28" lengthAdjust="spacingAndGlyphs">panos.action</text>
<text x="1943.05" y="352" font-size="19" fill="#ccccdc" textLength="246.53" lengthAdjust="spacingAndGlyphs">panos.session_end_reason</text>
<text x="123.74" y="481.0" font-size="15" fill="#ccccdc" textLength="26.31" lengthAdjust="spacingAndGlyphs">end</text>
<text x="123.44" y="618.9" font-size="15" fill="#ccccdc" textLength="33.59" lengthAdjust="spacingAndGlyphs">deny</text>
<text x="123.36" y="689.75" font-size="15" fill="#ccccdc" textLength="32.42" lengthAdjust="spacingAndGlyphs">drop</text>
<text x="1082.23" y="480.9" font-size="15" fill="#ccccdc" textLength="35.25" lengthAdjust="spacingAndGlyphs">allow</text>
<text x="1045.85" y="616.8" font-size="15" fill="#ccccdc" textLength="71.98" lengthAdjust="spacingAndGlyphs">reset-both</text>
<text x="1083.90" y="673.8" font-size="15" fill="#ccccdc" textLength="33.13" lengthAdjust="spacingAndGlyphs">deny</text>
<text x="2107.61" y="423.6" font-size="15" fill="#ccccdc" textLength="46.22" lengthAdjust="spacingAndGlyphs">tcp-fin</text>
<text x="2090.70" y="510.9" font-size="15" fill="#ccccdc" textLength="62.22" lengthAdjust="spacingAndGlyphs">aged-out</text>
<text x="2026.26" y="582.3" font-size="15" fill="#ccccdc" textLength="126.93" lengthAdjust="spacingAndGlyphs">tcp-rst-from-client</text>
<text x="2019.98" y="636.8" font-size="15" fill="#ccccdc" textLength="133.15" lengthAdjust="spacingAndGlyphs">tcp-rst-from-server</text>
<text x="2072.63" y="698" font-size="15" fill="#ccccdc" textLength="79.73" lengthAdjust="spacingAndGlyphs">policy-deny</text>
<text x="2113.31" y="754.8" font-size="15" fill="#ccccdc" textLength="39.42" lengthAdjust="spacingAndGlyphs">threat</text>
</svg></body></html>
